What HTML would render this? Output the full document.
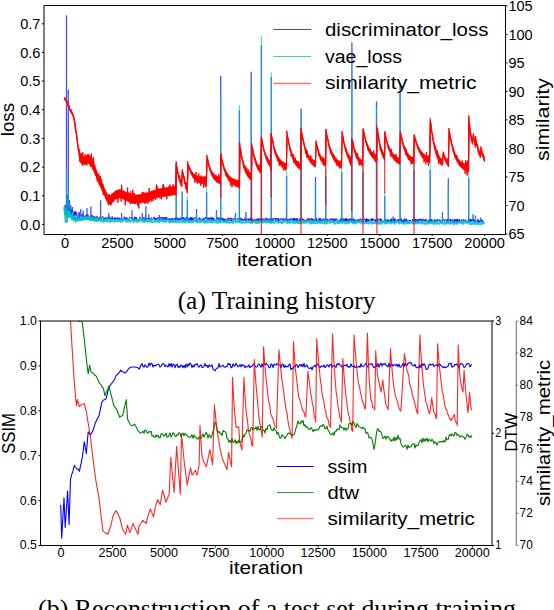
<!DOCTYPE html><html><head><meta charset="utf-8"><style>html,body{margin:0;padding:0;background:#fff;width:554px;height:610px;overflow:hidden;position:relative}</style></head><body><svg width="554" height="610" viewBox="0 0 554 610" style="position:absolute;left:0;top:0">
<rect x="0" y="0" width="554" height="610" fill="#fff"/>
<clipPath id="c1"><rect x="44.0" y="6.0" width="461.5" height="228.5"/></clipPath>
<g clip-path="url(#c1)">
<polyline points="64.6,210.12 64.95,205.71 65.3,204.97 65.65,206.9 66,213.04 66.35,210.77 66.7,205.76 67.05,207.21 67.4,209.59 67.75,213.41 68.1,208.18 68.45,206.66 68.8,209.44 69.15,209.57 69.5,211.5 69.85,208.58 70.2,210.91 70.55,214.81 70.9,208.71 71.25,212.82 71.6,214.17 71.95,210.23 72.3,213.47 72.65,211.32 73,212.26 73.35,214.78 73.7,216.34 74.05,213.57 74.4,211.42 74.75,215.95 75.1,214.32 75.45,211.25 75.8,215.18 76.15,215.65 76.5,212.11 76.85,213.32 77.2,218.18 77.55,216.91 77.9,218.06 78.25,215.14 78.6,215.15 78.95,212.49 79.3,212.08 79.65,217.88 80,218.76 80.35,215.03 80.7,215.67 81.05,215.99 81.4,216.43 81.75,214.69 82.1,213.85 82.45,214.7 82.8,217.5 83.15,214.99 83.5,214.96 83.85,217.25 84.2,216.35 84.55,217.46 84.9,216.87 85.25,216.98 85.6,216.52 85.95,214.92 86.3,216.25 86.65,217.47 87,214.01 87.35,217.69 87.7,214.61 88.05,214.28 88.4,216.72 88.75,217.2 89.1,216.68 89.45,217.66 89.8,218.03 90.15,217.99 90.5,218.35 90.85,215.45 91.2,214.82 91.55,217.98 91.9,218.09 92.25,215.99 92.6,215.28 92.95,215.76 93.3,216.69 93.65,216.07 94,217.96 94.35,216.44 94.7,217.22 95.05,217.73 95.4,216.96 95.75,218.45 96.1,218.23 96.45,216.33 96.8,215.88 97.15,216.25 97.5,216.43 97.85,219.59 98.2,217.69 98.55,218.97 98.9,217.81 99.25,219.21 99.6,219.72 99.95,216.85 100.3,218 100.65,218.56 101,219.17 101.35,219.17 101.7,217.45 102.05,217.61 102.4,216.38 102.75,216.14 103.1,217.1 103.45,218.06 103.8,219.6 104.15,217.91 104.5,219.09 104.85,218.66 105.2,217.39 105.55,219.46 105.9,219.06 106.25,217.86 106.6,218.42 106.95,217.96 107.3,217.07 107.65,217.33 108,219.5 108.35,216.76 108.7,217.45 109.05,216.79 109.4,216.91 109.75,219.07 110.1,220.01 110.45,217.7 110.8,219.35 111.15,217.92 111.5,218.74 111.85,217.02 112.2,216.33 112.55,219.36 112.9,218.21 113.25,218.07 113.6,218.63 113.95,219.19 114.3,217.95 114.65,219.23 115,217.15 115.35,219.77 115.7,219.05 116.05,218.98 116.4,218.08 116.75,218.78 117.1,217.95 117.45,219.13 117.8,217.29 118.15,218.11 118.5,217.93 118.85,220.02 119.2,218.93 119.55,217.87 119.9,220.22 120.25,218.5 120.6,219.46 120.95,218.41 121.3,218.64 121.65,219.22 122,218.91 122.35,218.44 122.7,220.16 123.05,219.11 123.4,219.43 123.75,220.32 124.1,216.61 124.45,217.99 124.8,218.07 125.15,219.2 125.5,217.47 125.85,219.38 126.2,218.53 126.55,219.63 126.9,217.28 127.25,219.54 127.6,218.98 127.95,218.7 128.3,220.31 128.65,219.01 129,219.73 129.35,217.65 129.7,216.98 130.05,217.9 130.4,217.56 130.75,217.51 131.1,217.24 131.45,219.39 131.8,217.49 132.15,218.43 132.5,219.07 132.85,217.98 133.2,219.95 133.55,219.85 133.9,219.68 134.25,219.87 134.6,216.61 134.95,220.37 135.3,217.56 135.65,217.14 136,219.68 136.35,217.19 136.7,219.75 137.05,220.16 137.4,219.72 137.75,220.18 138.1,219.96 138.45,219.39 138.8,219.59 139.15,220.16 139.5,217.69 139.85,217.19 140.2,216.88 140.55,217.23 140.9,218.65 141.25,220.11 141.6,220.03 141.95,218.92 142.3,220.04 142.65,218.36 143,216.99 143.35,219.24 143.7,219.14 144.05,220.43 144.4,220.64 144.75,218.65 145.1,216.86 145.45,219.23 145.8,220.18 146.15,218.64 146.5,219.83 146.85,218.49 147.2,218.97 147.55,217.93 147.9,218.38 148.25,217.86 148.6,220.68 148.95,219.95 149.3,218.06 149.65,219.14 150,219.94 150.35,219.69 150.7,218.99 151.05,218.01 151.4,217.57 151.75,219.25 152.1,219.97 152.45,219.27 152.8,219.33 153.15,219.21 153.5,217.68 153.85,218.66 154.2,217.24 154.55,216.98 154.9,220.5 155.25,218.32 155.6,219.99 155.95,217.88 156.3,218.54 156.65,218.58 157,220.59 157.35,219.13 157.7,217.34 158.05,219.17 158.4,218.65 158.75,218.42 159.1,220.62 159.45,218.78 159.8,217.29 160.15,217.73 160.5,216.95 160.85,219.62 161.2,220.75 161.55,220.37 161.9,216.97 162.25,217.87 162.6,217.65 162.95,220 163.3,220.33 163.65,217.25 164,219.75 164.35,220.64 164.7,220.77 165.05,216.97 165.4,219.53 165.75,217.24 166.1,219.85 166.45,220.38 166.8,217.17 167.15,219.24 167.5,219.65 167.85,220.13 168.2,219.53 168.55,218.62 168.9,220.1 169.25,220.09 169.6,218.13 169.95,220.86 170.3,220.27 170.65,219.39 171,220.29 171.35,218.21 171.7,220.53 172.05,219.72 172.4,220.56 172.75,218.12 173.1,218.04 173.45,219.33 173.8,220.54 174.15,220.33 174.5,220.46 174.85,218.09 175.2,220.23 175.55,220.66 175.9,217.35 176.25,220.2 176.6,220.01 176.95,217.95 177.3,219.73 177.65,217.85 178,220.03 178.35,218.87 178.7,220.26 179.05,217.96 179.4,220.62 179.75,219.13 180.1,219.4 180.45,217.81 180.8,219.85 181.15,219.31 181.5,219.12 181.85,217.23 182.2,218.55 182.55,219.59 182.9,217.69 183.25,218.45 183.6,217.15 183.95,221.03 184.3,219.02 184.65,218.12 185,218.78 185.35,220.15 185.7,220.94 186.05,217.24 186.4,217.81 186.75,217.3 187.1,220.58 187.45,220.89 187.8,217.36 188.15,218.69 188.5,220.95 188.85,219.37 189.2,220.94 189.55,218.69 189.9,217.76 190.25,221.09 190.6,217.28 190.95,218.54 191.3,220.75 191.65,217.32 192,219.97 192.35,221.08 192.7,217.72 193.05,220.9 193.4,218.34 193.75,220.18 194.1,218.45 194.45,217.65 194.8,217.83 195.15,217.73 195.5,217.21 195.85,217.95 196.2,220.88 196.55,220.91 196.9,220.73 197.25,218.97 197.6,220.9 197.95,219.7 198.3,218.55 198.65,219.1 199,217.76 199.35,217.42 199.7,219.41 200.05,220.68 200.4,218.85 200.75,218.29 201.1,218.55 201.45,219.18 201.8,220.83 202.15,221.13 202.5,220.8 202.85,218.07 203.2,218.37 203.55,218.03 203.9,221.2 204.25,220.93 204.6,218.39 204.95,217.47 205.3,218.42 205.65,217.31 206,218.61 206.35,217.26 206.7,219.36 207.05,219 207.4,218.13 207.75,217.81 208.1,220.35 208.45,218.05 208.8,217.62 209.15,219.26 209.5,218.1 209.85,220.11 210.2,219.61 210.55,217.55 210.9,218.92 211.25,217.51 211.6,218.63 211.95,220.75 212.3,217.36 212.65,219.21 213,218.37 213.35,220.63 213.7,217.96 214.05,219.69 214.4,219.39 214.75,219.38 215.1,220.18 215.45,220.79 215.8,220.17 216.15,220.33 216.5,220.82 216.85,219.31 217.2,219.46 217.55,217.42 217.9,218.24 218.25,217.76 218.6,220.62 218.95,217.74 219.3,218.13 219.65,219.75 220,219.45 220.35,217.77 220.7,220.23 221.05,217.86 221.4,219.37 221.75,217.86 222.1,217.92 222.45,220.82 222.8,219.67 223.15,218.04 223.5,221.14 223.85,219.07 224.2,219.5 224.55,221.16 224.9,218.75 225.25,218.74 225.6,221.33 225.95,221.06 226.3,220.8 226.65,219.48 227,221.15 227.35,219.11 227.7,218.88 228.05,217.7 228.4,219.45 228.75,217.99 229.1,220.54 229.45,219.97 229.8,220.98 230.15,217.58 230.5,218.51 230.85,218.54 231.2,221.15 231.55,218.45 231.9,219.19 232.25,218.61 232.6,220.05 232.95,219.84 233.3,219.52 233.65,219.33 234,218.07 234.35,218 234.7,219.1 235.05,218.45 235.4,219.67 235.75,219.93 236.1,220.09 236.45,220.33 236.8,219.69 237.15,219.37 237.5,218.47 237.85,219.55 238.2,219.85 238.55,218.92 238.9,218.47 239.25,219.48 239.6,221.47 239.95,220.61 240.3,217.79 240.65,219.29 241,219.08 241.35,220.47 241.7,218.43 242.05,220.49 242.4,218.89 242.75,220.24 243.1,220.94 243.45,219.62 243.8,220.52 244.15,219.45 244.5,220.39 244.85,218.07 245.2,217.58 245.55,219.91 245.9,221.42 246.25,219.24 246.6,221.06 246.95,219.09 247.3,219.41 247.65,218.75 248,219.81 248.35,218.87 248.7,220.99 249.05,219.37 249.4,218.81 249.75,219.9 250.1,217.95 250.45,218.9 250.8,220.96 251.15,218.43 251.5,221.25 251.85,217.8 252.2,219.61 252.55,220.71 252.9,221.62 253.25,219.7 253.6,219.19 253.95,220.01 254.3,221.43 254.65,219.74 255,219.14 255.35,219.89 255.7,221.16 256.05,219.6 256.4,220.15 256.75,219.03 257.1,220.92 257.45,218.93 257.8,220.97 258.15,218.11 258.5,220.43 258.85,221.63 259.2,219.36 259.55,218.84 259.9,219.7 260.25,218.41 260.6,220.1 260.95,221.66 261.3,217.86 261.65,220.84 262,220.46 262.35,218.92 262.7,220.05 263.05,218.49 263.4,219.92 263.75,220.3 264.1,221.7 264.45,219.36 264.8,218.35 265.15,218.15 265.5,218.41 265.85,221.02 266.2,220.96 266.55,217.78 266.9,219.03 267.25,219.15 267.6,218.81 267.95,221.36 268.3,219.14 268.65,219.29 269,221.31 269.35,221.59 269.7,220.24 270.05,217.94 270.4,221.18 270.75,221.36 271.1,218.98 271.45,221.61 271.8,221.57 272.15,219.34 272.5,218.67 272.85,221.28 273.2,220.96 273.55,218.48 273.9,218.54 274.25,218.96 274.6,218.26 274.95,219.34 275.3,218.06 275.65,221.11 276,218.79 276.35,218.95 276.7,217.95 277.05,219.18 277.4,220.64 277.75,218.9 278.1,218.34 278.45,221.17 278.8,218.47 279.15,220.72 279.5,221.67 279.85,221.64 280.2,218.75 280.55,218.37 280.9,218.89 281.25,220.2 281.6,218.84 281.95,218.71 282.3,218.35 282.65,220.03 283,220.95 283.35,220.5 283.7,219.11 284.05,218.22 284.4,221.28 284.75,220.53 285.1,220.13 285.45,219.89 285.8,218.15 286.15,218.79 286.5,220.76 286.85,219.51 287.2,221 287.55,221.35 287.9,219.01 288.25,220.62 288.6,219.31 288.95,220.55 289.3,218.91 289.65,219.33 290,218.65 290.35,221.57 290.7,220.78 291.05,218.09 291.4,218.72 291.75,219.46 292.1,219.18 292.45,218.66 292.8,220.22 293.15,218.96 293.5,220.69 293.85,217.95 294.2,221.06 294.55,218.13 294.9,220.39 295.25,218.94 295.6,221.13 295.95,221.63 296.3,218.31 296.65,219.55 297,221.29 297.35,218.34 297.7,219.68 298.05,220.75 298.4,221.31 298.75,219.8 299.1,220.79 299.45,220.04 299.8,218.51 300.15,218.18 300.5,221.23 300.85,220.19 301.2,220.56 301.55,219.01 301.9,219.44 302.25,218.82 302.6,218.56 302.95,220.7 303.3,218.98 303.65,219.8 304,219.43 304.35,221.56 304.7,220.28 305.05,221.29 305.4,221.07 305.75,220.7 306.1,219.88 306.45,221.36 306.8,219.19 307.15,218.86 307.5,219.16 307.85,220.85 308.2,218.5 308.55,219.92 308.9,218.72 309.25,218.09 309.6,221.05 309.95,220.92 310.3,220.31 310.65,220.01 311,218.82 311.35,218.09 311.7,220.64 312.05,221.81 312.4,219.07 312.75,218.62 313.1,221.17 313.45,219.26 313.8,220.63 314.15,221.78 314.5,221.22 314.85,221.05 315.2,218.82 315.55,219.36 315.9,220.29 316.25,221.41 316.6,218.25 316.95,220.6 317.3,220.92 317.65,221.88 318,220.1 318.35,219.3 318.7,218.42 319.05,218.76 319.4,221.98 319.75,218.27 320.1,218.87 320.45,218.12 320.8,221.53 321.15,219.82 321.5,220.76 321.85,219.8 322.2,219.88 322.55,221.43 322.9,218.78 323.25,219.9 323.6,219.52 323.95,218.47 324.3,219.97 324.65,221.77 325,222.03 325.35,220.62 325.7,218.38 326.05,220.58 326.4,220.43 326.75,220.07 327.1,219.34 327.45,221.69 327.8,218.91 328.15,219.94 328.5,220.8 328.85,220.48 329.2,220.28 329.55,219.75 329.9,218.88 330.25,220.36 330.6,221.61 330.95,218.55 331.3,219.18 331.65,220.39 332,220.46 332.35,220.23 332.7,218.5 333.05,218.47 333.4,221.63 333.75,221.04 334.1,218.64 334.45,221.07 334.8,221.51 335.15,218.88 335.5,220.44 335.85,218.74 336.2,218.43 336.55,219.69 336.9,220.58 337.25,219.4 337.6,219.91 337.95,220.69 338.3,220.46 338.65,221.69 339,221.19 339.35,221.27 339.7,221.52 340.05,219.71 340.4,222.01 340.75,218.39 341.1,218.62 341.45,221.44 341.8,221.93 342.15,219.25 342.5,220.02 342.85,220.56 343.2,218.32 343.55,221.44 343.9,220.45 344.25,220.99 344.6,218.82 344.95,220.4 345.3,221.48 345.65,218.3 346,218.85 346.35,221.74 346.7,218.39 347.05,221.53 347.4,219.83 347.75,218.89 348.1,219.83 348.45,220.71 348.8,219.58 349.15,221.84 349.5,218.44 349.85,219.71 350.2,220.58 350.55,219.69 350.9,220.59 351.25,218.36 351.6,222.23 351.95,218.86 352.3,219.37 352.65,220.29 353,220.56 353.35,222.12 353.7,218.43 354.05,221.38 354.4,221.39 354.75,220.84 355.1,219.42 355.45,221.79 355.8,221.03 356.15,221.36 356.5,220.34 356.85,219.71 357.2,219.93 357.55,219.66 357.9,222.27 358.25,219.78 358.6,219.26 358.95,218.86 359.3,221.81 359.65,220.11 360,219.53 360.35,218.59 360.7,219.56 361.05,220.54 361.4,219.69 361.75,220.67 362.1,219.05 362.45,222.29 362.8,221.44 363.15,221.82 363.5,220.28 363.85,219.45 364.2,218.44 364.55,219.42 364.9,219.22 365.25,219.15 365.6,221.81 365.95,219.14 366.3,222.21 366.65,218.68 367,221.87 367.35,218.91 367.7,220.51 368.05,220.93 368.4,219.22 368.75,221.37 369.1,220 369.45,219.73 369.8,220.04 370.15,220.89 370.5,220.36 370.85,219.41 371.2,218.44 371.55,220.64 371.9,218.61 372.25,221.29 372.6,218.77 372.95,218.97 373.3,218.76 373.65,220.09 374,220.75 374.35,221.03 374.7,219.73 375.05,219.44 375.4,221.46 375.75,219.65 376.1,222.32 376.45,219.53 376.8,222.18 377.15,218.45 377.5,221.04 377.85,219.87 378.2,219.34 378.55,218.79 378.9,218.96 379.25,220.44 379.6,219.16 379.95,219.9 380.3,219.14 380.65,222.12 381,218.55 381.35,219.41 381.7,220.44 382.05,219.82 382.4,220.29 382.75,222.06 383.1,221.38 383.45,221.03 383.8,221.91 384.15,220.71 384.5,222.13 384.85,220.97 385.2,219.47 385.55,220.2 385.9,219.28 386.25,221.04 386.6,222.45 386.95,220.75 387.3,221.93 387.65,219.54 388,221.77 388.35,219.8 388.7,222.04 389.05,221.21 389.4,220.3 389.75,222.02 390.1,222.02 390.45,221.61 390.8,219.22 391.15,222.47 391.5,218.59 391.85,222.39 392.2,222.15 392.55,221.45 392.9,219.18 393.25,218.87 393.6,222.18 393.95,222.04 394.3,218.64 394.65,221.68 395,218.67 395.35,219.44 395.7,218.94 396.05,222.48 396.4,222.04 396.75,220.47 397.1,220.24 397.45,221.27 397.8,221.48 398.15,218.98 398.5,220.52 398.85,219.93 399.2,222.41 399.55,221.46 399.9,219.25 400.25,218.82 400.6,220.58 400.95,220.77 401.3,218.59 401.65,221.16 402,220.75 402.35,222.48 402.7,221.43 403.05,219.83 403.4,222.45 403.75,220.1 404.1,219.14 404.45,218.59 404.8,222.27 405.15,221.01 405.5,219.53 405.85,219.04 406.2,221.71 406.55,218.78 406.9,219.88 407.25,220.78 407.6,222.47 407.95,221.57 408.3,220.63 408.65,222.57 409,221.11 409.35,220.11 409.7,220.17 410.05,221.05 410.4,219.89 410.75,220.77 411.1,221.05 411.45,222.24 411.8,221.49 412.15,220.51 412.5,219.18 412.85,220.73 413.2,220.72 413.55,219.57 413.9,221.9 414.25,221.18 414.6,222.2 414.95,218.8 415.3,221.95 415.65,219.12 416,219.63 416.35,220.06 416.7,220.72 417.05,218.99 417.4,222.62 417.75,220.44 418.1,221.83 418.45,219.24 418.8,220.11 419.15,219.6 419.5,220.01 419.85,218.72 420.2,220.93 420.55,219.37 420.9,219.75 421.25,219.62 421.6,219.02 421.95,222.1 422.3,220.36 422.65,221.14 423,218.84 423.35,220.14 423.7,219.85 424.05,221.26 424.4,220.08 424.75,220.99 425.1,219.44 425.45,221.53 425.8,221.34 426.15,218.97 426.5,220.2 426.85,220.67 427.2,221.72 427.55,221.06 427.9,220.54 428.25,220.35 428.6,222.26 428.95,220.66 429.3,222 429.65,221.66 430,218.87 430.35,220.92 430.7,221.79 431.05,219.59 431.4,221.98 431.75,219.07 432.1,220.97 432.45,221.44 432.8,220.65 433.15,221.49 433.5,221.06 433.85,221.99 434.2,219.31 434.55,220.8 434.9,222.69 435.25,219.78 435.6,219.75 435.95,220.96 436.3,220.42 436.65,219.96 437,221.95 437.35,219.77 437.7,218.95 438.05,220.24 438.4,220.71 438.75,220.21 439.1,219.55 439.45,220.98 439.8,220.01 440.15,220.39 440.5,220.06 440.85,221.95 441.2,221.61 441.55,221.14 441.9,222.51 442.25,222.28 442.6,220.51 442.95,218.97 443.3,219.06 443.65,219.5 444,221.02 444.35,220.77 444.7,221.48 445.05,219.63 445.4,219.37 445.75,219.62 446.1,219.17 446.45,222.6 446.8,221.43 447.15,222.42 447.5,219.42 447.85,221.58 448.2,222.15 448.55,219.74 448.9,220.08 449.25,219.42 449.6,220.11 449.95,219.42 450.3,222.73 450.65,218.95 451,221.38 451.35,221 451.7,220.68 452.05,220.54 452.4,219.28 452.75,219.32 453.1,222.81 453.45,220.94 453.8,220.22 454.15,220.82 454.5,219.21 454.85,222.29 455.2,221 455.55,219.4 455.9,222.42 456.25,219.76 456.6,218.98 456.95,222.72 457.3,222.63 457.65,219.05 458,220.65 458.35,221.83 458.7,222.01 459.05,219.14 459.4,219.25 459.75,222.02 460.1,220.71 460.45,220.92 460.8,221.46 461.15,221.18 461.5,220.37 461.85,219.53 462.2,222.64 462.55,222.25 462.9,220.8 463.25,219.26 463.6,219.35 463.95,221.03 464.3,220.76 464.65,221.03 465,220.36 465.35,220.51 465.7,219.41 466.05,222.39 466.4,222.46 466.75,222.68 467.1,222.07 467.45,221.66 467.8,221.91 468.15,219.97 468.5,220.49 468.85,220.08 469.2,219.25 469.55,219.85 469.9,222.06 470.25,219.17 470.6,221.32 470.95,219.09 471.3,221.7 471.65,220.3 472,220.78 472.35,218.98 472.7,220.58 473.05,219.29 473.4,221.87 473.75,219.55 474.1,219.5 474.45,219.82 474.8,222.85 475.15,222.12 475.5,220.94 475.85,222.58 476.2,221.5 476.55,221.46 476.9,222.1 477.25,221.83 477.6,219.61 477.95,221.65 478.3,219.51 478.65,222.72 479,221.95 479.35,222.18 479.7,220.71 480.05,222.11 480.4,220.17 480.75,221.11 481.1,219.44 481.45,222.13 481.8,222.34 482.15,219.78 482.5,219.94 482.85,222.62 483.2,221.83 483.55,222.13 483.9,221.73 484.25,222.3" fill="none" stroke="#0000ff" stroke-width="1" stroke-opacity="0.75" stroke-linejoin="round"/>
<line x1="66.5" y1="209.58" x2="66.5" y2="15.3" stroke="#0000ff" stroke-width="1.3" stroke-opacity="0.7"/>
<line x1="68.3" y1="210.43" x2="68.3" y2="89.8" stroke="#0000ff" stroke-width="1.3" stroke-opacity="0.7"/>
<line x1="67.4" y1="210.13" x2="67.4" y2="195" stroke="#0000ff" stroke-width="1.3" stroke-opacity="0.7"/>
<line x1="69.5" y1="210.83" x2="69.5" y2="200" stroke="#0000ff" stroke-width="1.3" stroke-opacity="0.7"/>
<line x1="70.8" y1="211.46" x2="70.8" y2="205" stroke="#0000ff" stroke-width="1.3" stroke-opacity="0.7"/>
<line x1="72.5" y1="212.43" x2="72.5" y2="207" stroke="#0000ff" stroke-width="1.3" stroke-opacity="0.7"/>
<line x1="80.7" y1="215.93" x2="80.7" y2="209" stroke="#0000ff" stroke-width="1.3" stroke-opacity="0.7"/>
<line x1="83.2" y1="215.68" x2="83.2" y2="210.4" stroke="#0000ff" stroke-width="1.3" stroke-opacity="0.7"/>
<line x1="87" y1="215.9" x2="87" y2="207.9" stroke="#0000ff" stroke-width="1.3" stroke-opacity="0.7"/>
<line x1="90.9" y1="216.63" x2="90.9" y2="206.6" stroke="#0000ff" stroke-width="1.3" stroke-opacity="0.7"/>
<line x1="100.6" y1="218.01" x2="100.6" y2="200.2" stroke="#0000ff" stroke-width="1.3" stroke-opacity="0.7"/>
<line x1="108.8" y1="218.14" x2="108.8" y2="213" stroke="#0000ff" stroke-width="1.3" stroke-opacity="0.7"/>
<line x1="121.6" y1="218.35" x2="121.6" y2="213" stroke="#0000ff" stroke-width="1.3" stroke-opacity="0.7"/>
<line x1="132" y1="218.51" x2="132" y2="210.3" stroke="#0000ff" stroke-width="1.3" stroke-opacity="0.7"/>
<line x1="142.3" y1="218.68" x2="142.3" y2="212.9" stroke="#0000ff" stroke-width="1.3" stroke-opacity="0.7"/>
<line x1="145.9" y1="218.73" x2="145.9" y2="206.3" stroke="#0000ff" stroke-width="1.3" stroke-opacity="0.7"/>
<line x1="148.8" y1="218.78" x2="148.8" y2="214.2" stroke="#0000ff" stroke-width="1.3" stroke-opacity="0.7"/>
<line x1="159.3" y1="218.87" x2="159.3" y2="215" stroke="#0000ff" stroke-width="1.3" stroke-opacity="0.7"/>
<line x1="176.2" y1="219.01" x2="176.2" y2="161.1" stroke="#0000ff" stroke-width="1.3" stroke-opacity="0.7"/>
<line x1="182.2" y1="219.06" x2="182.2" y2="191.4" stroke="#0000ff" stroke-width="1.3" stroke-opacity="0.7"/>
<line x1="187.4" y1="219.1" x2="187.4" y2="200" stroke="#0000ff" stroke-width="1.3" stroke-opacity="0.7"/>
<line x1="196.5" y1="219.17" x2="196.5" y2="209" stroke="#0000ff" stroke-width="1.3" stroke-opacity="0.7"/>
<line x1="206.6" y1="219.25" x2="206.6" y2="192" stroke="#0000ff" stroke-width="1.3" stroke-opacity="0.7"/>
<line x1="216.5" y1="219.33" x2="216.5" y2="210.3" stroke="#0000ff" stroke-width="1.3" stroke-opacity="0.7"/>
<line x1="220.7" y1="219.37" x2="220.7" y2="76.1" stroke="#0000ff" stroke-width="1.3" stroke-opacity="0.7"/>
<line x1="235.5" y1="219.48" x2="235.5" y2="213" stroke="#0000ff" stroke-width="1.3" stroke-opacity="0.7"/>
<line x1="239.4" y1="219.52" x2="239.4" y2="110" stroke="#0000ff" stroke-width="1.3" stroke-opacity="0.7"/>
<line x1="245.9" y1="219.57" x2="245.9" y2="212" stroke="#0000ff" stroke-width="1.3" stroke-opacity="0.7"/>
<line x1="251.2" y1="219.61" x2="251.2" y2="71.8" stroke="#0000ff" stroke-width="1.3" stroke-opacity="0.7"/>
<line x1="261.4" y1="219.69" x2="261.4" y2="45" stroke="#0000ff" stroke-width="1.3" stroke-opacity="0.7"/>
<line x1="271.3" y1="219.77" x2="271.3" y2="77" stroke="#0000ff" stroke-width="1.3" stroke-opacity="0.7"/>
<line x1="286.6" y1="219.89" x2="286.6" y2="176" stroke="#0000ff" stroke-width="1.3" stroke-opacity="0.7"/>
<line x1="301.1" y1="220.01" x2="301.1" y2="108.4" stroke="#0000ff" stroke-width="1.3" stroke-opacity="0.7"/>
<line x1="315.5" y1="220.08" x2="315.5" y2="177.1" stroke="#0000ff" stroke-width="1.3" stroke-opacity="0.7"/>
<line x1="325.8" y1="220.14" x2="325.8" y2="176" stroke="#0000ff" stroke-width="1.3" stroke-opacity="0.7"/>
<line x1="341.7" y1="220.23" x2="341.7" y2="172" stroke="#0000ff" stroke-width="1.3" stroke-opacity="0.7"/>
<line x1="351.9" y1="220.28" x2="351.9" y2="42.5" stroke="#0000ff" stroke-width="1.3" stroke-opacity="0.7"/>
<line x1="363" y1="220.34" x2="363" y2="172" stroke="#0000ff" stroke-width="1.3" stroke-opacity="0.7"/>
<line x1="376.5" y1="220.41" x2="376.5" y2="101.5" stroke="#0000ff" stroke-width="1.3" stroke-opacity="0.7"/>
<line x1="384.7" y1="220.46" x2="384.7" y2="196" stroke="#0000ff" stroke-width="1.3" stroke-opacity="0.7"/>
<line x1="393" y1="220.5" x2="393" y2="216.4" stroke="#0000ff" stroke-width="1.3" stroke-opacity="0.7"/>
<line x1="400.1" y1="220.54" x2="400.1" y2="84.8" stroke="#0000ff" stroke-width="1.3" stroke-opacity="0.7"/>
<line x1="414" y1="220.62" x2="414" y2="170" stroke="#0000ff" stroke-width="1.3" stroke-opacity="0.7"/>
<line x1="419.8" y1="220.65" x2="419.8" y2="219.5" stroke="#0000ff" stroke-width="1.3" stroke-opacity="0.7"/>
<line x1="430.2" y1="220.71" x2="430.2" y2="170" stroke="#0000ff" stroke-width="1.3" stroke-opacity="0.7"/>
<line x1="442.4" y1="220.77" x2="442.4" y2="212.3" stroke="#0000ff" stroke-width="1.3" stroke-opacity="0.7"/>
<line x1="448.3" y1="220.8" x2="448.3" y2="178.2" stroke="#0000ff" stroke-width="1.3" stroke-opacity="0.7"/>
<line x1="468.7" y1="220.91" x2="468.7" y2="178" stroke="#0000ff" stroke-width="1.3" stroke-opacity="0.7"/>
<line x1="473" y1="220.94" x2="473" y2="214.3" stroke="#0000ff" stroke-width="1.3" stroke-opacity="0.7"/>
<line x1="475.5" y1="220.95" x2="475.5" y2="215.4" stroke="#0000ff" stroke-width="1.3" stroke-opacity="0.7"/>
<line x1="480.6" y1="220.98" x2="480.6" y2="217.4" stroke="#0000ff" stroke-width="1.3" stroke-opacity="0.7"/>
<polyline points="64.6,211.16 64.95,212.15 65.3,214.46 65.65,215.42 66,214.84 66.35,215.22 66.7,214.28 67.05,213.21 67.4,216.75 67.75,216.18 68.1,213.95 68.45,217.13 68.8,213.27 69.15,213.95 69.5,214.7 69.85,216.94 70.2,217.2 70.55,214.34 70.9,215.19 71.25,214.51 71.6,219.36 71.95,216.74 72.3,214.6 72.65,218.11 73,218.81 73.35,220.76 73.7,216.83 74.05,215.8 74.4,218.17 74.75,216.29 75.1,216.21 75.45,221.99 75.8,217.74 76.15,219.76 76.5,220.88 76.85,219.39 77.2,218.56 77.55,220.71 77.9,218.33 78.25,220.49 78.6,220.43 78.95,218.83 79.3,218.8 79.65,219.06 80,220.09 80.35,220.07 80.7,219.52 81.05,220.16 81.4,218.52 81.75,220.55 82.1,220.22 82.45,218.29 82.8,219.67 83.15,219.61 83.5,219.94 83.85,217.95 84.2,219.05 84.55,219.09 84.9,218.43 85.25,219.12 85.6,218.37 85.95,218.81 86.3,217.77 86.65,217.4 87,217.63 87.35,217.56 87.7,218.3 88.05,217.39 88.4,219.42 88.75,219.47 89.1,217.61 89.45,218.54 89.8,219.94 90.15,217.72 90.5,220.32 90.85,217.95 91.2,218.02 91.55,220.28 91.9,219.69 92.25,219.73 92.6,218.19 92.95,220.21 93.3,218.95 93.65,218.11 94,218.95 94.35,219.26 94.7,221.1 95.05,220.81 95.4,218.4 95.75,219.67 96.1,219.46 96.45,220.08 96.8,221.11 97.15,221.03 97.5,218.63 97.85,220.96 98.2,218.74 98.55,220.26 98.9,219.39 99.25,219.93 99.6,219.72 99.95,219.84 100.3,221.1 100.65,219.34 101,219.25 101.35,221.1 101.7,220.9 102.05,220.22 102.4,221.7 102.75,221.69 103.1,219.65 103.45,221.74 103.8,220.18 104.15,219.74 104.5,220.64 104.85,221.31 105.2,220.1 105.55,219.52 105.9,221.05 106.25,219.57 106.6,221.39 106.95,219.45 107.3,221.73 107.65,219.65 108,221.19 108.35,219.55 108.7,219.83 109.05,220.66 109.4,220.08 109.75,222.02 110.1,219.41 110.45,219.41 110.8,222.06 111.15,221.31 111.5,219.7 111.85,219.44 112.2,220.29 112.55,220.32 112.9,221.21 113.25,221.03 113.6,219.56 113.95,220.35 114.3,221.87 114.65,220.87 115,220.41 115.35,221.32 115.7,221.48 116.05,221.72 116.4,221.09 116.75,220.11 117.1,219.46 117.45,221.52 117.8,221.07 118.15,220.45 118.5,221.05 118.85,221.21 119.2,219.74 119.55,221.53 119.9,220.67 120.25,219.32 120.6,219.69 120.95,222.03 121.3,219.52 121.65,220.84 122,220.76 122.35,221.71 122.7,220.46 123.05,219.86 123.4,220.41 123.75,219.6 124.1,220.31 124.45,220.07 124.8,219.29 125.15,220.51 125.5,220.31 125.85,219.93 126.2,222.08 126.55,219.92 126.9,220.44 127.25,219.66 127.6,221.7 127.95,220.69 128.3,219.96 128.65,220.35 129,221.75 129.35,220.7 129.7,220.94 130.05,221.8 130.4,221.86 130.75,220.44 131.1,220.59 131.45,219.32 131.8,220.16 132.15,220.23 132.5,220.61 132.85,221.31 133.2,222.12 133.55,219.51 133.9,222.06 134.25,219.76 134.6,221.25 134.95,219.38 135.3,221.32 135.65,219.66 136,220.06 136.35,220.4 136.7,222.08 137.05,219.87 137.4,221.2 137.75,221.38 138.1,221.75 138.45,219.98 138.8,220.98 139.15,220.71 139.5,221.06 139.85,220.1 140.2,220.88 140.55,220.81 140.9,220.88 141.25,221.03 141.6,219.44 141.95,220.82 142.3,221.42 142.65,220.55 143,222.31 143.35,221.34 143.7,219.52 144.05,221.49 144.4,220.44 144.75,220.98 145.1,222.14 145.45,221.61 145.8,220.47 146.15,220.56 146.5,221.04 146.85,220.1 147.2,220.74 147.55,221.96 147.9,221.96 148.25,220.99 148.6,221.01 148.95,221.45 149.3,220.49 149.65,220.39 150,221.4 150.35,219.62 150.7,222.16 151.05,219.66 151.4,219.53 151.75,222.28 152.1,221.49 152.45,222.25 152.8,221.37 153.15,221.61 153.5,221.57 153.85,221.53 154.2,221.82 154.55,220.08 154.9,221.86 155.25,221.51 155.6,222.01 155.95,221.23 156.3,220.46 156.65,220.51 157,221.48 157.35,219.72 157.7,219.68 158.05,222 158.4,222.32 158.75,219.61 159.1,221.35 159.45,222.52 159.8,220.82 160.15,221.51 160.5,220.04 160.85,219.6 161.2,219.95 161.55,219.86 161.9,219.98 162.25,221.76 162.6,221.8 162.95,219.75 163.3,221.75 163.65,221.8 164,221.5 164.35,221 164.7,220.38 165.05,221.77 165.4,219.67 165.75,222.08 166.1,220.56 166.45,220.13 166.8,221.09 167.15,220.74 167.5,220.96 167.85,220.08 168.2,220.74 168.55,221.54 168.9,220.81 169.25,222.49 169.6,221.36 169.95,219.84 170.3,221.77 170.65,220.66 171,222.6 171.35,221.47 171.7,220.96 172.05,220.81 172.4,221.48 172.75,222.1 173.1,219.69 173.45,220.96 173.8,222.14 174.15,219.82 174.5,222.13 174.85,221.41 175.2,222.26 175.55,221.76 175.9,220.75 176.25,221.37 176.6,220.31 176.95,222.51 177.3,221.54 177.65,221.12 178,220.49 178.35,222.1 178.7,219.99 179.05,222.05 179.4,221.47 179.75,222.39 180.1,221.17 180.45,220.31 180.8,220.29 181.15,220.84 181.5,220.96 181.85,220.2 182.2,222.75 182.55,220.08 182.9,222.13 183.25,221.56 183.6,221.33 183.95,219.87 184.3,222.37 184.65,221.48 185,222.12 185.35,222.62 185.7,222.24 186.05,220.55 186.4,220.39 186.75,220.04 187.1,221.47 187.45,221.17 187.8,222.53 188.15,221.6 188.5,220.17 188.85,220.58 189.2,221.74 189.55,221.83 189.9,221.16 190.25,222.72 190.6,220.49 190.95,220.6 191.3,222.54 191.65,222.34 192,222.2 192.35,221.78 192.7,220.01 193.05,222.11 193.4,221.88 193.75,221.62 194.1,220.17 194.45,220.63 194.8,221.3 195.15,220.58 195.5,221.9 195.85,222.02 196.2,219.98 196.55,220.53 196.9,222.48 197.25,220.3 197.6,220.17 197.95,222.41 198.3,221.24 198.65,222.36 199,221.78 199.35,220.56 199.7,222.04 200.05,220.33 200.4,220.7 200.75,220.37 201.1,222.43 201.45,220.41 201.8,220.87 202.15,220.26 202.5,220.09 202.85,221.93 203.2,221.36 203.55,220.7 203.9,221.02 204.25,222.93 204.6,220.23 204.95,222.63 205.3,222.12 205.65,222.88 206,222.37 206.35,220.37 206.7,222.45 207.05,220.51 207.4,222.7 207.75,221.68 208.1,220.51 208.45,222.1 208.8,220.21 209.15,221.8 209.5,220.8 209.85,221.82 210.2,222.42 210.55,220.59 210.9,222.19 211.25,222.15 211.6,222.42 211.95,222.52 212.3,221.48 212.65,222.73 213,222.62 213.35,220.56 213.7,221.11 214.05,221.13 214.4,220.03 214.75,221.36 215.1,220.38 215.45,222.47 215.8,220.99 216.15,221.17 216.5,220.22 216.85,222.9 217.2,221.58 217.55,221.65 217.9,222.95 218.25,220.59 218.6,220.8 218.95,220.14 219.3,222.15 219.65,220.11 220,221.79 220.35,222.17 220.7,222.67 221.05,220.2 221.4,221.55 221.75,220.91 222.1,221.29 222.45,221.86 222.8,220.52 223.15,222.32 223.5,222.57 223.85,221.26 224.2,222.61 224.55,221.28 224.9,222.43 225.25,220.82 225.6,221.41 225.95,222.52 226.3,222.56 226.65,220.27 227,222.99 227.35,220.87 227.7,222.02 228.05,221.72 228.4,221.43 228.75,220.19 229.1,223.04 229.45,222.95 229.8,222.57 230.15,222.8 230.5,222.07 230.85,222.18 231.2,221.78 231.55,222.02 231.9,221.72 232.25,223.01 232.6,221.08 232.95,220.52 233.3,223.03 233.65,220.97 234,221.77 234.35,220.55 234.7,221.06 235.05,221.05 235.4,220.45 235.75,222.71 236.1,221.9 236.45,220.8 236.8,221.58 237.15,222.04 237.5,221.13 237.85,220.87 238.2,221.36 238.55,220.24 238.9,222.8 239.25,221.88 239.6,221.07 239.95,221.11 240.3,220.7 240.65,222.84 241,220.41 241.35,221.55 241.7,220.56 242.05,223.11 242.4,220.7 242.75,221.3 243.1,222.09 243.45,222.71 243.8,222.47 244.15,222.53 244.5,222.61 244.85,223 245.2,222.87 245.55,222.56 245.9,221.76 246.25,221.99 246.6,222.62 246.95,222.1 247.3,221.64 247.65,222.45 248,221.46 248.35,221.44 248.7,222.65 249.05,221.79 249.4,220.85 249.75,220.73 250.1,222.05 250.45,223.06 250.8,222.84 251.15,223.19 251.5,221.59 251.85,220.35 252.2,222.01 252.55,223.08 252.9,221.94 253.25,221.88 253.6,222.38 253.95,221.4 254.3,221.39 254.65,222.37 255,220.64 255.35,221.55 255.7,222.07 256.05,223.24 256.4,221.67 256.75,223.34 257.1,221.95 257.45,220.87 257.8,223.3 258.15,221.9 258.5,223.05 258.85,222.83 259.2,223.04 259.55,220.85 259.9,221.91 260.25,220.95 260.6,222.28 260.95,221.45 261.3,222.3 261.65,221.63 262,221.32 262.35,220.41 262.7,222.93 263.05,222.41 263.4,221.9 263.75,221.21 264.1,222.01 264.45,222.14 264.8,220.78 265.15,222.7 265.5,220.72 265.85,221.99 266.2,222.27 266.55,220.62 266.9,222.75 267.25,222.58 267.6,220.95 267.95,220.74 268.3,222.19 268.65,221.8 269,220.62 269.35,222.2 269.7,221.78 270.05,221.21 270.4,223.26 270.75,221.41 271.1,222.92 271.45,222.28 271.8,221.96 272.15,221.21 272.5,222.64 272.85,221.41 273.2,221.94 273.55,221.22 273.9,221.57 274.25,223.41 274.6,222.18 274.95,222.1 275.3,221.71 275.65,220.88 276,221.56 276.35,221.08 276.7,221.23 277.05,222.51 277.4,220.99 277.75,220.8 278.1,223.03 278.45,221.86 278.8,222.95 279.15,221.59 279.5,221.67 279.85,221.16 280.2,222.06 280.55,221.9 280.9,222.67 281.25,223.25 281.6,221.66 281.95,222.38 282.3,223.18 282.65,222.1 283,221.38 283.35,221.72 283.7,222.27 284.05,221.74 284.4,221.11 284.75,221.54 285.1,220.91 285.45,221.67 285.8,221.48 286.15,221.52 286.5,220.97 286.85,221.44 287.2,223.32 287.55,223.25 287.9,221 288.25,220.69 288.6,222.6 288.95,221.85 289.3,222.71 289.65,223.16 290,222.51 290.35,220.97 290.7,222.83 291.05,220.75 291.4,221.12 291.75,221.54 292.1,220.75 292.45,222.55 292.8,223.16 293.15,222.8 293.5,221.95 293.85,221.7 294.2,223.16 294.55,221.52 294.9,223.22 295.25,220.8 295.6,221 295.95,221.3 296.3,222.92 296.65,222.76 297,222.92 297.35,221.52 297.7,223.52 298.05,223.48 298.4,222.9 298.75,222.57 299.1,220.86 299.45,221.98 299.8,223.48 300.15,222.99 300.5,222.81 300.85,221.49 301.2,223.61 301.55,222.34 301.9,220.89 302.25,221.94 302.6,221.64 302.95,222.83 303.3,221.43 303.65,222.26 304,223.52 304.35,221.62 304.7,221.15 305.05,221.72 305.4,222.37 305.75,221.23 306.1,222.52 306.45,223.03 306.8,221.07 307.15,221.81 307.5,220.91 307.85,221.33 308.2,222.08 308.55,221.71 308.9,221.83 309.25,220.96 309.6,223.72 309.95,221 310.3,223.69 310.65,221.07 311,222.05 311.35,222.38 311.7,223.51 312.05,222.64 312.4,222.71 312.75,221.49 313.1,220.84 313.45,223.28 313.8,221.32 314.15,223.3 314.5,221.27 314.85,223.26 315.2,221.75 315.55,223.24 315.9,221.87 316.25,221.88 316.6,221.49 316.95,222.47 317.3,223.23 317.65,223.49 318,222.26 318.35,221.25 318.7,222.52 319.05,222.85 319.4,222.11 319.75,221.05 320.1,222.11 320.45,222.96 320.8,223.31 321.15,223.15 321.5,221.64 321.85,222.34 322.2,221.81 322.55,222.8 322.9,223.51 323.25,221.69 323.6,222.49 323.95,221.39 324.3,221.78 324.65,223.72 325,223.4 325.35,223.7 325.7,223.24 326.05,222.84 326.4,221.71 326.75,223.67 327.1,222.76 327.45,221.85 327.8,220.9 328.15,222.86 328.5,221.08 328.85,221.94 329.2,222.08 329.55,222.52 329.9,221.17 330.25,223.5 330.6,221.17 330.95,221.59 331.3,222.43 331.65,222.3 332,221.52 332.35,221.18 332.7,222.61 333.05,222.07 333.4,222.16 333.75,222.5 334.1,223.12 334.45,223.82 334.8,221.16 335.15,222.03 335.5,223.73 335.85,223.18 336.2,223.19 336.55,221.57 336.9,220.91 337.25,221.5 337.6,222.99 337.95,223.53 338.3,223.48 338.65,223.62 339,221.37 339.35,221.89 339.7,222.91 340.05,221.24 340.4,223.09 340.75,223.04 341.1,222.69 341.45,222.53 341.8,221.22 342.15,222.91 342.5,221.46 342.85,223.4 343.2,221.23 343.55,221.22 343.9,221.45 344.25,221.76 344.6,222.04 344.95,223.52 345.3,222.96 345.65,223.74 346,221.93 346.35,222.41 346.7,223.3 347.05,221.45 347.4,222.94 347.75,222.33 348.1,223.44 348.45,223.53 348.8,221.14 349.15,221.56 349.5,222.68 349.85,221.43 350.2,222.32 350.55,222.08 350.9,220.94 351.25,221.92 351.6,222.3 351.95,221.06 352.3,222.94 352.65,221.75 353,221.72 353.35,222.52 353.7,223.91 354.05,222.62 354.4,223.55 354.75,222.84 355.1,222.03 355.45,223.33 355.8,223.76 356.15,221.86 356.5,223.16 356.85,222.85 357.2,222.6 357.55,221.13 357.9,221.92 358.25,222.4 358.6,221.68 358.95,222 359.3,220.98 359.65,222.32 360,222.67 360.35,221.47 360.7,221.87 361.05,223.14 361.4,223.78 361.75,223.73 362.1,221.21 362.45,222.71 362.8,222.04 363.15,222.26 363.5,221.18 363.85,223.67 364.2,221.75 364.55,221.47 364.9,223.09 365.25,222.18 365.6,222.79 365.95,222.93 366.3,223.19 366.65,222.79 367,223.42 367.35,222.02 367.7,221.56 368.05,223.62 368.4,223.77 368.75,221.98 369.1,222.95 369.45,223.04 369.8,221.17 370.15,221.14 370.5,222.01 370.85,222.8 371.2,222.4 371.55,223.79 371.9,223.97 372.25,222.86 372.6,222 372.95,221.48 373.3,223.32 373.65,223.46 374,222.64 374.35,222.69 374.7,222.83 375.05,223.25 375.4,223.16 375.75,223.36 376.1,223.35 376.45,222.39 376.8,222.6 377.15,221.43 377.5,222.46 377.85,223.36 378.2,224.01 378.55,223.31 378.9,221.13 379.25,221.22 379.6,222.71 379.95,223.87 380.3,221.5 380.65,223.26 381,221.54 381.35,223.39 381.7,224 382.05,222.96 382.4,223.46 382.75,222.03 383.1,221.38 383.45,221.26 383.8,222.27 384.15,221.24 384.5,222.3 384.85,223.9 385.2,221.74 385.55,221.86 385.9,221.77 386.25,223.35 386.6,221.97 386.95,221.73 387.3,221.55 387.65,223.69 388,223.34 388.35,221.93 388.7,222.54 389.05,221.57 389.4,222.88 389.75,222.83 390.1,221.72 390.45,222.17 390.8,223.68 391.15,223.69 391.5,221.99 391.85,221.43 392.2,221.13 392.55,221.55 392.9,221.4 393.25,223.15 393.6,222.12 393.95,223.26 394.3,224.05 394.65,221.81 395,223.18 395.35,222.63 395.7,222.41 396.05,221.18 396.4,222.07 396.75,221.48 397.1,221.53 397.45,221.66 397.8,221.57 398.15,222.63 398.5,222.19 398.85,223.88 399.2,221.78 399.55,223.78 399.9,221.95 400.25,221.93 400.6,221.27 400.95,222.36 401.3,222.23 401.65,223.2 402,222.77 402.35,223.21 402.7,223.77 403.05,222.34 403.4,222.41 403.75,222.31 404.1,222.38 404.45,224.15 404.8,222.98 405.15,221.92 405.5,222.29 405.85,221.75 406.2,223.69 406.55,223.89 406.9,223.25 407.25,223.1 407.6,222.11 407.95,221.17 408.3,223.73 408.65,222.95 409,221.88 409.35,223.4 409.7,223.31 410.05,222.76 410.4,223.21 410.75,223.07 411.1,221.85 411.45,221.98 411.8,222.6 412.15,222.75 412.5,221.85 412.85,223.97 413.2,222.76 413.55,223.63 413.9,221.71 414.25,222.58 414.6,223.68 414.95,223.8 415.3,222.34 415.65,223.65 416,221.66 416.35,221.51 416.7,223.62 417.05,222.57 417.4,222.4 417.75,223.3 418.1,222.65 418.45,223.49 418.8,223.26 419.15,222.78 419.5,222.33 419.85,222.36 420.2,221.82 420.55,221.4 420.9,223.38 421.25,222.2 421.6,223.73 421.95,223.14 422.3,221.84 422.65,223.61 423,222.35 423.35,222.56 423.7,223.37 424.05,222.46 424.4,223.67 424.75,222.4 425.1,224.02 425.45,224.16 425.8,222.36 426.15,222.24 426.5,223.52 426.85,222.83 427.2,223.96 427.55,221.33 427.9,222.64 428.25,223.77 428.6,222.68 428.95,222.58 429.3,222.8 429.65,223.27 430,222.47 430.35,223.3 430.7,223.57 431.05,221.62 431.4,221.5 431.75,221.58 432.1,223.53 432.45,221.44 432.8,223.41 433.15,221.44 433.5,222.53 433.85,224.27 434.2,223.9 434.55,222.29 434.9,221.3 435.25,222.11 435.6,222.23 435.95,223.87 436.3,222.82 436.65,221.45 437,223.89 437.35,223.87 437.7,221.9 438.05,222.91 438.4,222.69 438.75,223.05 439.1,223.71 439.45,224.06 439.8,221.46 440.15,222.91 440.5,223 440.85,222.13 441.2,222.19 441.55,223.72 441.9,222.68 442.25,222.65 442.6,221.49 442.95,223.24 443.3,223.91 443.65,223.11 444,224.09 444.35,223.73 444.7,223.35 445.05,222.21 445.4,223.85 445.75,224.09 446.1,221.64 446.45,223.69 446.8,222.58 447.15,222.11 447.5,223.4 447.85,221.51 448.2,221.47 448.55,222.22 448.9,223.09 449.25,223.03 449.6,224.08 449.95,223.87 450.3,223.75 450.65,222.53 451,222.49 451.35,222.03 451.7,221.64 452.05,223.54 452.4,223.4 452.75,223.85 453.1,224.13 453.45,224.18 453.8,222.24 454.15,223.62 454.5,224.16 454.85,222.83 455.2,223.17 455.55,221.64 455.9,222.19 456.25,223.91 456.6,224.15 456.95,223.18 457.3,222.41 457.65,223.35 458,222.38 458.35,222.13 458.7,221.92 459.05,222.28 459.4,223.07 459.75,223.05 460.1,223.18 460.45,221.5 460.8,221.69 461.15,221.79 461.5,222.46 461.85,223.39 462.2,221.91 462.55,222.4 462.9,224.03 463.25,221.85 463.6,224.05 463.95,222.9 464.3,221.76 464.65,221.91 465,222.94 465.35,222.01 465.7,222.03 466.05,222.14 466.4,222.93 466.75,221.47 467.1,222.89 467.45,223.14 467.8,222.11 468.15,221.89 468.5,221.52 468.85,222.99 469.2,224.1 469.55,223.17 469.9,223.22 470.25,223.57 470.6,222.18 470.95,224.39 471.3,223.3 471.65,223.89 472,223.88 472.35,224.21 472.7,224.27 473.05,222.67 473.4,222.19 473.75,223.49 474.1,222.49 474.45,222.05 474.8,222.45 475.15,224.45 475.5,222.9 475.85,223.8 476.2,223.72 476.55,222.06 476.9,224 477.25,221.75 477.6,222.52 477.95,224.37 478.3,223.71 478.65,223.96 479,224.19 479.35,223.97 479.7,223.25 480.05,223.96 480.4,224.09 480.75,224.37 481.1,224.32 481.45,224.39 481.8,222.24 482.15,222.19 482.5,222.86 482.85,222.97 483.2,223.55 483.55,222.67 483.9,223.88 484.25,224.32" fill="none" stroke="#00bfbf" stroke-width="1.6" stroke-opacity="0.85" stroke-linejoin="round"/>
<polyline points="64.7,207 65.5,212 66.3,221.5 67,214 70.5,216 76.6,219.5 80,219 85,218.2 90,218.6 100,220" fill="none" stroke="#00bfbf" stroke-width="3.2" stroke-opacity="0.9" stroke-linejoin="round"/>
<line x1="66.5" y1="215" x2="66.5" y2="169.7" stroke="#00bfbf" stroke-width="1.3" stroke-opacity="0.6"/>
<line x1="68.3" y1="216.19" x2="68.3" y2="190" stroke="#00bfbf" stroke-width="1.3" stroke-opacity="0.6"/>
<line x1="67.4" y1="216.06" x2="67.4" y2="198" stroke="#00bfbf" stroke-width="1.3" stroke-opacity="0.6"/>
<line x1="69.5" y1="216.36" x2="69.5" y2="205" stroke="#00bfbf" stroke-width="1.3" stroke-opacity="0.6"/>
<line x1="70.8" y1="216.67" x2="70.8" y2="208" stroke="#00bfbf" stroke-width="1.3" stroke-opacity="0.6"/>
<line x1="72.5" y1="217.65" x2="72.5" y2="211" stroke="#00bfbf" stroke-width="1.3" stroke-opacity="0.6"/>
<line x1="80.7" y1="219.36" x2="80.7" y2="214" stroke="#00bfbf" stroke-width="1.3" stroke-opacity="0.6"/>
<line x1="83.2" y1="218.86" x2="83.2" y2="215" stroke="#00bfbf" stroke-width="1.3" stroke-opacity="0.6"/>
<line x1="87" y1="218.7" x2="87" y2="214" stroke="#00bfbf" stroke-width="1.3" stroke-opacity="0.6"/>
<line x1="90.9" y1="219.13" x2="90.9" y2="214" stroke="#00bfbf" stroke-width="1.3" stroke-opacity="0.6"/>
<line x1="100.6" y1="220.51" x2="100.6" y2="214" stroke="#00bfbf" stroke-width="1.3" stroke-opacity="0.6"/>
<line x1="108.8" y1="220.59" x2="108.8" y2="216" stroke="#00bfbf" stroke-width="1.3" stroke-opacity="0.6"/>
<line x1="121.6" y1="220.72" x2="121.6" y2="217" stroke="#00bfbf" stroke-width="1.3" stroke-opacity="0.6"/>
<line x1="132" y1="220.82" x2="132" y2="217" stroke="#00bfbf" stroke-width="1.3" stroke-opacity="0.6"/>
<line x1="142.3" y1="220.92" x2="142.3" y2="218" stroke="#00bfbf" stroke-width="1.3" stroke-opacity="0.6"/>
<line x1="145.9" y1="220.96" x2="145.9" y2="214" stroke="#00bfbf" stroke-width="1.3" stroke-opacity="0.6"/>
<line x1="148.8" y1="220.99" x2="148.8" y2="218" stroke="#00bfbf" stroke-width="1.3" stroke-opacity="0.6"/>
<line x1="159.3" y1="221.07" x2="159.3" y2="218" stroke="#00bfbf" stroke-width="1.3" stroke-opacity="0.6"/>
<line x1="176.2" y1="221.21" x2="176.2" y2="163" stroke="#00bfbf" stroke-width="1.3" stroke-opacity="0.6"/>
<line x1="182.2" y1="221.26" x2="182.2" y2="194" stroke="#00bfbf" stroke-width="1.3" stroke-opacity="0.6"/>
<line x1="187.4" y1="221.3" x2="187.4" y2="196" stroke="#00bfbf" stroke-width="1.3" stroke-opacity="0.6"/>
<line x1="196.5" y1="221.37" x2="196.5" y2="213" stroke="#00bfbf" stroke-width="1.3" stroke-opacity="0.6"/>
<line x1="206.6" y1="221.45" x2="206.6" y2="187.5" stroke="#00bfbf" stroke-width="1.3" stroke-opacity="0.6"/>
<line x1="216.5" y1="221.53" x2="216.5" y2="213" stroke="#00bfbf" stroke-width="1.3" stroke-opacity="0.6"/>
<line x1="220.7" y1="221.57" x2="220.7" y2="92.8" stroke="#00bfbf" stroke-width="1.3" stroke-opacity="0.6"/>
<line x1="235.5" y1="221.68" x2="235.5" y2="216" stroke="#00bfbf" stroke-width="1.3" stroke-opacity="0.6"/>
<line x1="239.4" y1="221.72" x2="239.4" y2="105" stroke="#00bfbf" stroke-width="1.3" stroke-opacity="0.6"/>
<line x1="245.9" y1="221.77" x2="245.9" y2="215" stroke="#00bfbf" stroke-width="1.3" stroke-opacity="0.6"/>
<line x1="251.2" y1="221.81" x2="251.2" y2="85" stroke="#00bfbf" stroke-width="1.3" stroke-opacity="0.6"/>
<line x1="261.4" y1="221.89" x2="261.4" y2="35.7" stroke="#00bfbf" stroke-width="1.3" stroke-opacity="0.6"/>
<line x1="271.3" y1="221.97" x2="271.3" y2="72.2" stroke="#00bfbf" stroke-width="1.3" stroke-opacity="0.6"/>
<line x1="286.6" y1="222.09" x2="286.6" y2="171" stroke="#00bfbf" stroke-width="1.3" stroke-opacity="0.6"/>
<line x1="301.1" y1="222.2" x2="301.1" y2="110" stroke="#00bfbf" stroke-width="1.3" stroke-opacity="0.6"/>
<line x1="315.5" y1="222.27" x2="315.5" y2="181" stroke="#00bfbf" stroke-width="1.3" stroke-opacity="0.6"/>
<line x1="325.8" y1="222.31" x2="325.8" y2="169" stroke="#00bfbf" stroke-width="1.3" stroke-opacity="0.6"/>
<line x1="341.7" y1="222.38" x2="341.7" y2="167" stroke="#00bfbf" stroke-width="1.3" stroke-opacity="0.6"/>
<line x1="351.9" y1="222.42" x2="351.9" y2="71" stroke="#00bfbf" stroke-width="1.3" stroke-opacity="0.6"/>
<line x1="363" y1="222.47" x2="363" y2="163" stroke="#00bfbf" stroke-width="1.3" stroke-opacity="0.6"/>
<line x1="376.5" y1="222.53" x2="376.5" y2="106.5" stroke="#00bfbf" stroke-width="1.3" stroke-opacity="0.6"/>
<line x1="384.7" y1="222.57" x2="384.7" y2="192" stroke="#00bfbf" stroke-width="1.3" stroke-opacity="0.6"/>
<line x1="393" y1="222.6" x2="393" y2="218" stroke="#00bfbf" stroke-width="1.3" stroke-opacity="0.6"/>
<line x1="400.1" y1="222.63" x2="400.1" y2="90" stroke="#00bfbf" stroke-width="1.3" stroke-opacity="0.6"/>
<line x1="414" y1="222.69" x2="414" y2="163" stroke="#00bfbf" stroke-width="1.3" stroke-opacity="0.6"/>
<line x1="419.8" y1="222.72" x2="419.8" y2="220" stroke="#00bfbf" stroke-width="1.3" stroke-opacity="0.6"/>
<line x1="430.2" y1="222.76" x2="430.2" y2="150" stroke="#00bfbf" stroke-width="1.3" stroke-opacity="0.6"/>
<line x1="442.4" y1="222.82" x2="442.4" y2="215" stroke="#00bfbf" stroke-width="1.3" stroke-opacity="0.6"/>
<line x1="448.3" y1="222.84" x2="448.3" y2="185" stroke="#00bfbf" stroke-width="1.3" stroke-opacity="0.6"/>
<line x1="468.7" y1="222.93" x2="468.7" y2="172" stroke="#00bfbf" stroke-width="1.3" stroke-opacity="0.6"/>
<line x1="473" y1="222.95" x2="473" y2="216" stroke="#00bfbf" stroke-width="1.3" stroke-opacity="0.6"/>
<line x1="475.5" y1="222.96" x2="475.5" y2="217" stroke="#00bfbf" stroke-width="1.3" stroke-opacity="0.6"/>
<line x1="480.6" y1="222.98" x2="480.6" y2="218" stroke="#00bfbf" stroke-width="1.3" stroke-opacity="0.6"/>
<line x1="176.2" y1="163" x2="176.2" y2="196" stroke="#ff0000" stroke-width="1.2" stroke-opacity="0.8"/>
<line x1="220.8" y1="154" x2="220.8" y2="198" stroke="#ff0000" stroke-width="1.2" stroke-opacity="0.8"/>
<line x1="239.5" y1="142" x2="239.5" y2="189" stroke="#ff0000" stroke-width="1.2" stroke-opacity="0.8"/>
<line x1="251.6" y1="143" x2="251.6" y2="222" stroke="#ff0000" stroke-width="1.2" stroke-opacity="0.8"/>
<line x1="261.4" y1="137" x2="261.4" y2="234.5" stroke="#ff0000" stroke-width="1.2" stroke-opacity="0.8"/>
<line x1="271.1" y1="133" x2="271.1" y2="197" stroke="#ff0000" stroke-width="1.2" stroke-opacity="0.8"/>
<line x1="301" y1="128" x2="301" y2="234.5" stroke="#ff0000" stroke-width="1.2" stroke-opacity="0.8"/>
<line x1="325.8" y1="129" x2="325.8" y2="205" stroke="#ff0000" stroke-width="1.2" stroke-opacity="0.8"/>
<line x1="351.7" y1="137" x2="351.7" y2="211" stroke="#ff0000" stroke-width="1.2" stroke-opacity="0.8"/>
<line x1="363" y1="128" x2="363" y2="234.5" stroke="#ff0000" stroke-width="1.2" stroke-opacity="0.8"/>
<line x1="376.9" y1="125" x2="376.9" y2="234.5" stroke="#ff0000" stroke-width="1.2" stroke-opacity="0.8"/>
<line x1="384.7" y1="132" x2="384.7" y2="193" stroke="#ff0000" stroke-width="1.2" stroke-opacity="0.8"/>
<line x1="414" y1="134" x2="414" y2="234.5" stroke="#ff0000" stroke-width="1.2" stroke-opacity="0.8"/>
<line x1="430.2" y1="118" x2="430.2" y2="148" stroke="#ff0000" stroke-width="1.2" stroke-opacity="0.8"/>
<line x1="468.7" y1="115" x2="468.7" y2="172" stroke="#ff0000" stroke-width="1.2" stroke-opacity="0.8"/>
<polygon points="64.4,97.19 65.4,98.37 66.4,99.55 67.4,101.5 68.4,103.99 69.4,106.99 70.4,109.43 71.4,111.03 72.4,112.63 73.4,115.19 74.4,118.68 75.4,125.18 76.4,132.28 77.4,140.28 78.4,147.08 79.4,149.88 80.4,154.07 81.4,155.07 82.4,156.07 83.4,156.8 84.4,156.4 85.4,156.01 86.4,155.62 87.4,155.23 88.4,154.98 89.4,156 90.4,157.03 91.4,158.05 92.4,159.38 93.4,161.93 94.4,164.48 95.4,167.58 96.4,170.13 97.4,172.65 98.4,174.88 99.4,177.12 100.4,179.35 101.4,181.59 102.4,183.83 103.4,186 104.4,188.18 105.4,190.35 106.4,192.53 107.4,194.71 108.4,195.07 109.4,195.84 110.4,196.06 111.4,195 112.4,193.94 113.4,192.88 114.4,191.82 115.4,190.91 116.4,190.6 117.4,190.28 118.4,189.97 119.4,189.66 120.4,189.42 121.4,189.91 122.4,190.39 123.4,190.88 124.4,191.36 125.4,191.84 126.4,192.33 127.4,192.75 128.4,193.16 129.4,193.58 130.4,194 131.4,194.41 132.4,194.83 133.4,195.06 134.4,195.03 135.4,195 136.4,194.97 137.4,194.94 138.4,194.91 139.4,194.88 140.4,194.69 141.4,194.45 142.4,194.22 143.4,193.98 144.4,193.75 145.4,193.52 146.4,193.22 147.4,192.83 148.4,192.44 149.4,192.05 150.4,191.66 151.4,191.27 152.4,190.88 153.4,190.57 154.4,190.27 155.4,189.97 156.4,189.66 157.4,189.36 158.4,189.06 159.4,188.81 160.4,188.66 161.4,188.51 162.4,188.35 163.4,188.2 164.4,188.04 165.4,187.89 166.4,187.74 167.4,187.58 168.4,187.43 169.4,187.28 170.4,187.12 171.4,186.97 172.4,186.82 173.4,186.7 174.4,186.57 175.4,186.45 176.4,163.66 177.4,169.59 178.4,173.99 179.4,177.26 180.4,179.67 181.4,181.45 182.4,169.27 183.4,174.8 184.4,178.9 185.4,181.94 186.4,184.18 187.4,185.83 188.4,164.08 189.4,166.94 190.4,169.2 191.4,170.99 192.4,172.39 193.4,173.49 194.4,174.35 195.4,175.02 196.4,175.54 197.4,175.94 198.4,176.25 199.4,176.48 200.4,176.66 201.4,176.8 202.4,176.89 203.4,176.96 204.4,177.02 205.4,177.05 206.4,177.07 207.4,157.88 208.4,162.18 209.4,165.59 210.4,168.29 211.4,170.43 212.4,172.12 213.4,173.45 214.4,174.5 215.4,175.32 216.4,175.97 217.4,176.47 218.4,176.86 219.4,177.16 220.4,177.39 221.4,156.65 222.4,160.95 223.4,164.51 224.4,167.46 225.4,169.9 226.4,171.92 227.4,173.59 228.4,174.96 229.4,176.09 230.4,177.02 231.4,177.79 232.4,178.42 233.4,178.93 234.4,179.35 235.4,179.7 236.4,179.98 237.4,180.2 238.4,180.39 239.4,180.53 240.4,147.92 241.4,153.8 242.4,158.48 243.4,162.2 244.4,165.15 245.4,167.49 246.4,169.34 247.4,170.81 248.4,171.97 249.4,172.88 250.4,173.6 251.4,174.16 252.4,147.2 253.4,152.23 254.4,156.23 255.4,159.4 256.4,161.91 257.4,163.9 258.4,165.48 259.4,166.72 260.4,167.7 261.4,136.35 262.4,142.02 263.4,146.62 264.4,150.37 265.4,153.42 266.4,155.89 267.4,157.89 268.4,159.52 269.4,160.83 270.4,161.89 271.4,133.98 272.4,139.4 273.4,143.89 274.4,147.62 275.4,150.7 276.4,153.26 277.4,155.37 278.4,157.12 279.4,158.56 280.4,159.75 281.4,160.73 282.4,161.54 283.4,162.2 284.4,162.75 285.4,163.19 286.4,163.56 287.4,134.27 288.4,139.79 289.4,144.38 290.4,148.18 291.4,151.33 292.4,153.93 293.4,156.09 294.4,157.88 295.4,159.36 296.4,160.57 297.4,161.58 298.4,162.41 299.4,163.09 300.4,163.65 301.4,129.69 302.4,135.48 303.4,140.29 304.4,144.28 305.4,147.59 306.4,150.32 307.4,152.59 308.4,154.47 309.4,156.02 310.4,157.3 311.4,158.35 312.4,159.22 313.4,159.94 314.4,160.52 315.4,161.01 316.4,142.1 317.4,146.56 318.4,150.1 319.4,152.91 320.4,155.13 321.4,156.89 322.4,158.27 323.4,159.36 324.4,160.22 325.4,160.89 326.4,131.99 327.4,137.14 328.4,141.48 329.4,145.13 330.4,148.21 331.4,150.8 332.4,152.98 333.4,154.81 334.4,156.35 335.4,157.64 336.4,158.72 337.4,159.63 338.4,160.39 339.4,161.02 340.4,161.55 341.4,161.99 342.4,133.57 343.4,138.99 344.4,143.41 345.4,146.99 346.4,149.91 347.4,152.28 348.4,154.2 349.4,155.76 350.4,157.02 351.4,158.03 352.4,140.04 353.4,144.48 354.4,148.08 355.4,151 356.4,153.37 357.4,155.29 358.4,156.85 359.4,158.11 360.4,159.12 361.4,159.94 362.4,160.6 363.4,129.27 364.4,134.14 365.4,138.17 366.4,141.51 367.4,144.28 368.4,146.57 369.4,148.46 370.4,150.03 371.4,151.32 372.4,152.38 373.4,153.26 374.4,153.98 375.4,154.57 376.4,155.05 377.4,128.26 378.4,135.39 379.4,140.9 380.4,145.15 381.4,148.44 382.4,150.97 383.4,152.91 384.4,154.4 385.4,134.51 386.4,138.65 387.4,142.15 388.4,145.08 389.4,147.55 390.4,149.63 391.4,151.37 392.4,152.83 393.4,154.06 394.4,155.09 395.4,155.94 396.4,156.66 397.4,157.26 398.4,157.76 399.4,158.18 400.4,131.28 401.4,136.31 402.4,140.49 403.4,143.95 404.4,146.82 405.4,149.19 406.4,151.15 407.4,152.77 408.4,154.1 409.4,155.2 410.4,156.11 411.4,156.86 412.4,157.47 413.4,157.97 414.4,134.95 415.4,138.73 416.4,141.91 417.4,144.58 418.4,146.82 419.4,148.71 420.4,150.29 421.4,151.61 422.4,152.72 423.4,153.65 424.4,154.43 425.4,155.07 426.4,155.61 427.4,156.06 428.4,156.43 429.4,156.74 430.4,119.59 431.4,127.74 432.4,134.39 433.4,139.81 434.4,144.22 435.4,147.81 436.4,150.73 437.4,153.1 438.4,155.03 439.4,156.6 440.4,157.87 441.4,158.89 442.4,159.72 443.4,152.26 444.4,155.42 445.4,157.61 446.4,159.13 447.4,160.18 448.4,160.89 449.4,131.15 450.4,136.73 451.4,141.44 452.4,145.4 453.4,148.74 454.4,151.56 455.4,153.92 456.4,155.91 457.4,157.59 458.4,158.99 459.4,160.17 460.4,161.16 461.4,161.99 462.4,162.68 463.4,163.26 464.4,163.75 465.4,164.15 466.4,164.49 467.4,164.77 468.4,165 469.4,122.69 470.4,130.81 471.4,136.16 472.4,139.69 473.4,133.25 474.4,140.13 475.4,143.47 476.4,140.29 477.4,145.12 478.4,148.52 479.4,150.9 480.4,152.56 481.4,148.99 482.4,152.21 483.4,154.45 484.4,158.35 484.4,161.65 483.4,158.18 482.4,155.13 481.4,150.97 480.4,157.59 479.4,155.36 478.4,152.31 477.4,148.13 476.4,142.37 475.4,147.99 474.4,143.23 473.4,134.35 472.4,144.47 471.4,140.2 470.4,133.93 469.4,124.71 468.4,171.79 467.4,171.44 466.4,171.03 465.4,170.56 464.4,170 463.4,169.35 462.4,168.59 461.4,167.71 460.4,166.67 459.4,165.45 458.4,164.02 457.4,162.34 456.4,160.38 455.4,158.07 454.4,155.35 453.4,152.16 452.4,148.41 451.4,144 450.4,138.81 449.4,132.71 448.4,166.26 447.4,165.05 446.4,163.41 445.4,161.19 444.4,158.16 443.4,154.03 442.4,165.79 441.4,164.74 440.4,163.47 439.4,161.93 438.4,160.07 437.4,157.82 436.4,155.08 435.4,151.76 434.4,147.73 433.4,142.83 432.4,136.88 431.4,129.64 430.4,120.83 429.4,162.93 428.4,162.45 427.4,161.9 426.4,161.25 425.4,160.49 424.4,159.61 423.4,158.58 422.4,157.37 421.4,155.95 420.4,154.3 419.4,152.36 418.4,150.09 417.4,147.42 416.4,144.29 415.4,140.61 414.4,136.28 413.4,163.99 412.4,163.29 411.4,162.45 410.4,161.47 409.4,160.29 408.4,158.9 407.4,157.25 406.4,155.28 405.4,152.94 404.4,150.15 403.4,146.83 402.4,142.87 401.4,138.14 400.4,132.5 399.4,164.25 398.4,163.65 397.4,162.96 396.4,162.15 395.4,161.2 394.4,160.09 393.4,158.79 392.4,157.27 391.4,155.48 390.4,153.39 389.4,150.93 388.4,148.05 387.4,144.66 386.4,140.68 385.4,136.01 384.4,159.79 383.4,157.93 382.4,155.57 381.4,152.57 380.4,148.75 379.4,143.89 378.4,137.69 377.4,129.79 376.4,161.11 375.4,160.43 374.4,159.62 373.4,158.66 372.4,157.53 371.4,156.18 370.4,154.58 369.4,152.67 368.4,150.4 367.4,147.7 366.4,144.49 365.4,140.65 364.4,136.08 363.4,130.62 362.4,166.32 361.4,165.41 360.4,164.31 359.4,162.99 358.4,161.39 357.4,159.45 356.4,157.11 355.4,154.28 354.4,150.84 353.4,146.68 352.4,141.62 351.4,163.5 350.4,162.21 349.4,160.64 348.4,158.74 347.4,156.44 346.4,153.65 345.4,150.27 344.4,146.17 343.4,141.19 342.4,135.14 341.4,168.21 340.4,167.61 339.4,166.89 338.4,166.06 337.4,165.09 336.4,163.95 335.4,162.61 334.4,161.05 333.4,159.21 332.4,157.06 331.4,154.53 330.4,151.55 329.4,148.06 328.4,143.95 327.4,139.12 326.4,133.43 325.4,166.58 324.4,165.62 323.4,164.44 322.4,162.99 321.4,161.21 320.4,159 319.4,156.28 318.4,152.91 317.4,148.74 316.4,143.58 315.4,167.25 314.4,166.58 313.4,165.8 312.4,164.86 311.4,163.76 310.4,162.44 309.4,160.87 308.4,159.01 307.4,156.8 306.4,154.16 305.4,151.01 304.4,147.25 303.4,142.77 302.4,137.43 301.4,131.04 300.4,169.78 299.4,169.03 298.4,168.14 297.4,167.08 296.4,165.83 295.4,164.33 294.4,162.55 293.4,160.44 292.4,157.92 291.4,154.92 290.4,151.33 289.4,147.06 288.4,141.96 287.4,135.87 286.4,169.95 285.4,169.41 284.4,168.79 283.4,168.04 282.4,167.16 281.4,166.11 280.4,164.87 279.4,163.39 278.4,161.63 277.4,159.54 276.4,157.05 275.4,154.08 274.4,150.54 273.4,146.32 272.4,141.28 271.4,135.27 270.4,167.17 269.4,165.81 268.4,164.16 267.4,162.17 266.4,159.76 265.4,156.84 264.4,153.3 263.4,149 262.4,143.78 261.4,137.45 260.4,173.19 259.4,171.9 258.4,170.31 257.4,168.35 256.4,165.92 255.4,162.92 254.4,159.21 253.4,154.6 252.4,148.89 251.4,180.42 250.4,179.64 249.4,178.68 248.4,177.49 247.4,176.02 246.4,174.21 245.4,171.97 244.4,169.2 243.4,165.77 242.4,161.52 241.4,156.24 240.4,149.69 239.4,187.37 238.4,187.1 237.4,186.79 236.4,186.41 235.4,185.97 234.4,185.45 233.4,184.83 232.4,184.11 231.4,183.24 230.4,182.22 229.4,181.01 228.4,179.57 227.4,177.86 226.4,175.83 225.4,173.41 224.4,170.53 223.4,167.09 222.4,163 221.4,158.12 220.4,184.02 219.4,183.6 218.4,183.1 217.4,182.49 216.4,181.74 215.4,180.81 214.4,179.68 213.4,178.28 212.4,176.56 211.4,174.44 210.4,171.81 209.4,168.57 208.4,164.55 207.4,159.58 206.4,184.34 205.4,184.22 204.4,184.07 203.4,183.89 202.4,183.67 201.4,183.42 200.4,183.1 199.4,182.73 198.4,182.27 197.4,181.71 196.4,181.03 195.4,180.2 194.4,179.18 193.4,177.93 192.4,176.4 191.4,174.51 190.4,172.19 189.4,169.32 188.4,165.78 187.4,190.62 186.4,188.46 185.4,185.62 184.4,181.9 183.4,177.01 182.4,170.57 181.4,186.24 180.4,183.95 179.4,180.94 178.4,176.99 177.4,171.8 176.4,164.96 175.4,194.7 174.4,194.82 173.4,194.95 172.4,195.07 171.4,195.22 170.4,195.37 169.4,195.53 168.4,195.68 167.4,195.83 166.4,195.99 165.4,196.14 164.4,196.29 163.4,196.45 162.4,196.6 161.4,196.76 160.4,196.91 159.4,197.06 158.4,197.31 157.4,197.61 156.4,197.91 155.4,198.22 154.4,198.52 153.4,198.82 152.4,199.12 151.4,199.52 150.4,199.91 149.4,200.3 148.4,200.69 147.4,201.08 146.4,201.47 145.4,201.77 144.4,202 143.4,202.23 142.4,202.47 141.4,202.7 140.4,202.94 139.4,203.13 138.4,203.16 137.4,203.19 136.4,203.22 135.4,203.25 134.4,203.28 133.4,203.31 132.4,203.08 131.4,202.66 130.4,202.25 129.4,201.83 128.4,201.41 127.4,201 126.4,200.58 125.4,200.09 124.4,199.61 123.4,199.12 122.4,198.64 121.4,198.16 120.4,197.67 119.4,197.91 118.4,198.22 117.4,198.53 116.4,198.85 115.4,199.16 114.4,200.07 113.4,201.13 112.4,202.19 111.4,203.25 110.4,204.31 109.4,204.09 108.4,203.32 107.4,201.86 106.4,199.68 105.4,197.5 104.4,195.33 103.4,193.15 102.4,190.97 101.4,188.74 100.4,186.5 99.4,184.27 98.4,182.03 97.4,179.8 96.4,177.28 95.4,174.73 94.4,172.73 93.4,170.18 92.4,167.63 91.4,166.3 90.4,165.28 89.4,164.25 88.4,163.23 87.4,163.48 86.4,163.87 85.4,164.26 84.4,164.65 83.4,165.05 82.4,164.32 81.4,163.32 80.4,162.32 79.4,158.13 78.4,150.93 77.4,144.13 76.4,136.13 75.4,129.03 74.4,122.53 73.4,117.61 72.4,115.05 71.4,113.45 70.4,111.85 69.4,109.41 68.4,106.41 67.4,103.92 66.4,101.97 65.4,100.79 64.4,99.61" fill="#ff0000" stroke="#ff0000" stroke-width="0.8" stroke-linejoin="round"/>
<polyline points="64.4,98.09 64.8,99.49 65.2,99.07 65.6,99.44 66,99.17 66.4,100.51 66.8,102.77 67.2,102.8 67.6,104.4 68,104.3 68.4,105.68 68.8,106.62 69.2,105.58 69.6,109.83 70,110.61 70.4,111.24 70.8,109.23 71.2,109.81 71.6,111.48 72,112.63 72.4,114.21 72.8,114.74 73.2,116.5 73.6,116.16 74,118.59 74.4,121.36 74.8,121.93 75.2,129.11 75.6,129.47 76,133.3 76.4,133.01 76.8,135.98 77.2,139.94 77.6,143.6 78,148.22 78.4,149.48 78.8,150.14 79.2,149.05 79.6,152.85 80,162.04 80.4,154.87 80.8,159.61 81.2,160.76 81.6,153.25 82,160 82.4,165.59 82.8,152.29 83.2,159.67 83.6,160.41 84,157.32 84.4,162.58 84.8,160.12 85.2,154.17 85.6,163.47 86,162.66 86.4,163.65 86.8,165.53 87.2,160.93 87.6,159.77 88,153.76 88.4,161.64 88.8,156.99 89.2,158.06 89.6,155.12 90,156.75 90.4,158.96 90.8,166.88 91.2,153.59 91.6,156.37 92,163.78 92.4,169.46 92.8,166.92 93.2,157.71 93.6,157.19 94,169.06 94.4,165.57 94.8,165.01 95.2,174.14 95.6,175.61 96,173.25 96.4,174.58 96.8,176.28 97.2,181.44 97.6,178.88 98,179.42 98.4,180.42 98.8,173.75 99.2,184.83 99.6,184.56 100,183.93 100.4,175.87 100.8,181.56 101.2,187.73 101.6,179.14 102,185.85 102.4,191.04 102.8,183.58 103.2,194.9 103.6,191.99 104,190.35 104.4,192.91 104.8,194.95 105.2,193.92 105.6,198.46 106,192.87 106.4,194.62 106.8,200.7 107.2,197.94 107.6,195.43 108,202.79 108.4,205.24 108.8,197.67 109.2,194.12 109.6,199.56 110,199.81 110.4,198.95 110.8,205.55 111.2,195.1 111.6,204.11 112,193.26 112.4,194.82 112.8,200.25 113.2,201.87 113.6,200.34 114,197.79 114.4,196.53 114.8,196.15 115.2,197.47 115.6,194.25 116,195.99 116.4,197.09 116.8,194.6 117.2,197.62 117.6,196.68 118,202.52 118.4,195.44 118.8,192.21 119.2,192.31 119.6,193.67 120,197.4 120.4,192.16 120.8,195.33 121.2,201.51 121.6,184.75 122,189.69 122.4,195.52 122.8,196.35 123.2,195.89 123.6,193.32 124,197.99 124.4,196.65 124.8,193.52 125.2,205.25 125.6,197.53 126,193.97 126.4,196.04 126.8,195.69 127.2,196.53 127.6,187.58 128,195.11 128.4,201.45 128.8,192.64 129.2,197.35 129.6,201.72 130,201.49 130.4,204.27 130.8,191.27 131.2,196.99 131.6,197.21 132,201.36 132.4,203.45 132.8,189.74 133.2,203.68 133.6,193.21 134,201.99 134.4,193 134.8,199.87 135.2,204.06 135.6,198.51 136,199.9 136.4,202.39 136.8,199.67 137.2,198.71 137.6,205.39 138,203.37 138.4,197.82 138.8,208.4 139.2,194.28 139.6,202.77 140,197.81 140.4,199.36 140.8,201.63 141.2,199.54 141.6,201.17 142,192.14 142.4,192.12 142.8,200.79 143.2,194.18 143.6,193.83 144,191.9 144.4,203.1 144.8,200.86 145.2,203.76 145.6,193.73 146,197.5 146.4,192.64 146.8,200.35 147.2,203.59 147.6,193.2 148,203.16 148.4,200.64 148.8,195.67 149.2,188.12 149.6,201.9 150,195.54 150.4,193.29 150.8,197.27 151.2,197.16 151.6,201.49 152,190.95 152.4,199.69 152.8,201.01 153.2,200.75 153.6,193.89 154,191.45 154.4,198.6 154.8,194.75 155.2,194.66 155.6,199.91 156,192.82 156.4,184.41 156.8,192.07 157.2,185.9 157.6,196.8 158,194.61 158.4,190.66 158.8,193.02 159.2,196.4 159.6,193.23 160,198.32 160.4,192.53 160.8,197.01 161.2,198.81 161.6,199.24 162,189.77 162.4,196.11 162.8,184.68 163.2,187.89 163.6,184.2 164,196.64 164.4,187.09 164.8,192.06 165.2,191.25 165.6,191.87 166,189.48 166.4,192.83 166.8,199.19 167.2,191.92 167.6,193.87 168,195.74 168.4,190.74 168.8,186.3 169.2,189.14 169.6,195.8 170,184.52 170.4,188.78 170.8,195.34 171.2,194.39 171.6,191.09 172,194.32 172.4,191.63 172.8,186.04 173.2,184.4 173.6,188.16 174,194.56 174.4,188.37 174.8,186.93 175.2,187.42 175.6,184.23 176,190.02 176.4,163.54 176.8,167.39 177.2,167.24 177.6,172.16 178,172.87 178.4,172.58 178.8,178.25 179.2,177.97 179.6,175.46 180,179.04 180.4,182.43 180.8,181.66 181.2,185.31 181.6,186.01 182,186.5 182.4,170.13 182.8,173.64 183.2,175.51 183.6,177.44 184,175.94 184.4,181.74 184.8,184.02 185.2,182.65 185.6,183.45 186,189.32 186.4,182.56 186.8,188.2 187.2,193.22 187.6,161.29 188,163.92 188.4,166.53 188.8,166.18 189.2,168.18 189.6,169.82 190,168.49 190.4,170.56 190.8,172.04 191.2,173.78 191.6,173.04 192,173.4 192.4,172.36 192.8,174.2 193.2,177.41 193.6,176.17 194,174.37 194.4,174.73 194.8,182.78 195.2,180.37 195.6,179.43 196,171.93 196.4,179.99 196.8,179.86 197.2,183.54 197.6,180.16 198,178.9 198.4,180.83 198.8,173.47 199.2,182.74 199.6,180.69 200,177.55 200.4,184.15 200.8,185.87 201.2,175.45 201.6,177.93 202,181.2 202.4,180.91 202.8,178.98 203.2,177.04 203.6,187.82 204,184.13 204.4,176.33 204.8,175.81 205.2,186.7 205.6,184.2 206,187.26 206.4,183.65 206.8,154.86 207.2,157.87 207.6,157.75 208,160.84 208.4,163.3 208.8,165.64 209.2,165.36 209.6,167.53 210,169.7 210.4,170.72 210.8,172.26 211.2,172.41 211.6,172.18 212,175.31 212.4,174.45 212.8,173.09 213.2,174.1 213.6,176.13 214,176.35 214.4,177.49 214.8,177.5 215.2,178.37 215.6,177.87 216,174.99 216.4,180.07 216.8,182.21 217.2,180.66 217.6,179.01 218,181.17 218.4,176.97 218.8,174.16 219.2,180.5 219.6,177.44 220,183.01 220.4,177.12 220.8,152.95 221.2,155.66 221.6,159.63 222,159.89 222.4,160.57 222.8,162.72 223.2,165.74 223.6,167.15 224,168.04 224.4,171.27 224.8,171.26 225.2,171.12 225.6,173.2 226,176.14 226.4,175.77 226.8,176.73 227.2,173.1 227.6,175.73 228,178.32 228.4,176.58 228.8,180.34 229.2,179.76 229.6,181.04 230,178.68 230.4,185.53 230.8,183.29 231.2,179.77 231.6,180.93 232,187.34 232.4,180.29 232.8,184.05 233.2,184.64 233.6,182.01 234,178.69 234.4,182.97 234.8,183.69 235.2,186.28 235.6,185.38 236,183.14 236.4,185.94 236.8,185.07 237.2,184.11 237.6,183.73 238,182.84 238.4,186.05 238.8,180.26 239.2,181.77 239.6,142.74 240,144.82 240.4,148.42 240.8,149.4 241.2,153.1 241.6,156.84 242,158.94 242.4,159.92 242.8,161.32 243.2,160.8 243.6,168.04 244,166.98 244.4,169.39 244.8,166.4 245.2,168.86 245.6,166.02 246,172.86 246.4,174.05 246.8,167.72 247.2,172.98 247.6,175.37 248,169.48 248.4,169.69 248.8,172.18 249.2,173.78 249.6,171.86 250,176.4 250.4,177.37 250.8,178.85 251.2,179.35 251.6,143.63 252,146.36 252.4,146.93 252.8,149.84 253.2,151.24 253.6,153.01 254,156 254.4,157.72 254.8,159.97 255.2,157.82 255.6,159.52 256,162.84 256.4,163.52 256.8,164.21 257.2,165.59 257.6,164.79 258,168.88 258.4,168.75 258.8,168.28 259.2,167.33 259.6,169.1 260,163.92 260.4,167.75 260.8,170.94 261.2,166.89 261.6,138.32 262,140.75 262.4,141.68 262.8,144.73 263.2,146.55 263.6,149.25 264,151.15 264.4,151.78 264.8,151.9 265.2,154.28 265.6,155.6 266,158.17 266.4,158.39 266.8,157.3 267.2,156.78 267.6,159.61 268,159.49 268.4,159.26 268.8,162.19 269.2,161.84 269.6,163.84 270,165.42 270.4,163.44 270.8,171.07 271.2,133.17 271.6,136.63 272,138.28 272.4,141.39 272.8,139.96 273.2,143.35 273.6,146.27 274,148.4 274.4,152.4 274.8,150.98 275.2,153.88 275.6,154.31 276,155.83 276.4,156.12 276.8,155.81 277.2,158.07 277.6,155.58 278,161.23 278.4,157.08 278.8,160.63 279.2,165.73 279.6,160.71 280,161.85 280.4,165.28 280.8,162.85 281.2,161.06 281.6,164.32 282,165.61 282.4,166.34 282.8,162.47 283.2,170.06 283.6,170.16 284,165.58 284.4,166.58 284.8,164.68 285.2,170.58 285.6,164.2 286,168.71 286.4,165.22 286.8,130.62 287.2,134.3 287.6,137.46 288,138.67 288.4,140.14 288.8,143.88 289.2,144.75 289.6,147.02 290,150.49 290.4,151.54 290.8,150.31 291.2,156.48 291.6,153.73 292,156.37 292.4,154.64 292.8,156.82 293.2,154.09 293.6,162.63 294,162.58 294.4,157.38 294.8,157.29 295.2,157.55 295.6,165.09 296,161.5 296.4,163.04 296.8,162.84 297.2,163.79 297.6,161.51 298,164.98 298.4,161.15 298.8,165.4 299.2,166.82 299.6,167.6 300,165.76 300.4,163.94 300.8,167.44 301.2,128.71 301.6,132.83 302,134.81 302.4,136.34 302.8,138.09 303.2,139.75 303.6,141.23 304,143.67 304.4,146.2 304.8,148.07 305.2,149.59 305.6,153.61 306,149.83 306.4,152.26 306.8,157.8 307.2,150.38 307.6,154.02 308,156.34 308.4,157.09 308.8,158.41 309.2,157.56 309.6,159.65 310,159.46 310.4,161.85 310.8,155.4 311.2,158.46 311.6,161.26 312,158.8 312.4,159.09 312.8,164.19 313.2,160.82 313.6,164.89 314,165.52 314.4,164.48 314.8,165.35 315.2,163.7 315.6,159.81 316,140.58 316.4,143.18 316.8,144.43 317.2,146.67 317.6,149.36 318,148.94 318.4,152.41 318.8,155.66 319.2,153.13 319.6,155.39 320,155.87 320.4,160.05 320.8,158.55 321.2,160.59 321.6,157.87 322,160 322.4,160.61 322.8,156.85 323.2,165.28 323.6,164.44 324,157.92 324.4,164.93 324.8,162.9 325.2,164.85 325.6,164.92 326,129.37 326.4,132.56 326.8,136.23 327.2,136.58 327.6,138.04 328,139.42 328.4,141.21 328.8,144.79 329.2,148.27 329.6,147.94 330,149.02 330.4,153.61 330.8,150.14 331.2,150.91 331.6,154.17 332,155.2 332.4,152.95 332.8,153.39 333.2,157.27 333.6,157.92 334,155.06 334.4,158.22 334.8,157.99 335.2,160.99 335.6,160.09 336,160.65 336.4,160.41 336.8,164.57 337.2,165.93 337.6,161.53 338,165.26 338.4,161.07 338.8,163.74 339.2,166.01 339.6,168.57 340,163.2 340.4,164.35 340.8,165.4 341.2,160.37 341.6,165.25 342,131.28 342.4,134.65 342.8,135.75 343.2,136.98 343.6,141.15 344,143.35 344.4,144.03 344.8,147.74 345.2,147.49 345.6,148.29 346,151.45 346.4,148.85 346.8,151.55 347.2,153.84 347.6,156.61 348,155.32 348.4,157.17 348.8,155.67 349.2,158.6 349.6,162.62 350,157.34 350.4,165.51 350.8,158.39 351.2,160.6 351.6,161.45 352,139.32 352.4,139.86 352.8,140.92 353.2,145.33 353.6,147.34 354,148.79 354.4,152.6 354.8,151.11 355.2,152.46 355.6,154.77 356,154.92 356.4,158.35 356.8,153.72 357.2,156.22 357.6,152.94 358,160.25 358.4,158.27 358.8,161.89 359.2,165.47 359.6,160.79 360,160.63 360.4,160.42 360.8,159.9 361.2,160.79 361.6,164.61 362,163.27 362.4,163.65 362.8,163.23 363.2,129.35 363.6,131.42 364,133.03 364.4,135.75 364.8,136.76 365.2,137.24 365.6,142.06 366,142.29 366.4,141.58 366.8,145.97 367.2,146.01 367.6,143.79 368,150.5 368.4,149.13 368.8,151.14 369.2,150.59 369.6,150.62 370,148.23 370.4,154.51 370.8,152.98 371.2,152.79 371.6,154.87 372,154.69 372.4,156.69 372.8,154.4 373.2,155.67 373.6,150.31 374,155.31 374.4,158.7 374.8,160.92 375.2,156.31 375.6,157.26 376,162.59 376.4,157.09 376.8,160.53 377.2,128.42 377.6,130.71 378,134.99 378.4,135.72 378.8,139.33 379.2,141.23 379.6,143.58 380,147.16 380.4,151.04 380.8,147.21 381.2,148.7 381.6,152.16 382,149.91 382.4,154.41 382.8,155.56 383.2,154.35 383.6,157.14 384,152.41 384.4,159.14 384.8,131.34 385.2,133.8 385.6,135.75 386,137.63 386.4,140.54 386.8,141.33 387.2,142.22 387.6,144.79 388,147.57 388.4,146.58 388.8,148.26 389.2,150.79 389.6,150.19 390,148.33 390.4,155.78 390.8,156.63 391.2,149.05 391.6,153.69 392,155.33 392.4,157.19 392.8,157.15 393.2,155.53 393.6,154.15 394,157.4 394.4,160.17 394.8,155.22 395.2,155.71 395.6,158.68 396,153.86 396.4,158.69 396.8,158.48 397.2,161.25 397.6,158.22 398,157.91 398.4,159.55 398.8,160.77 399.2,159.11 399.6,161.34 400,163.79 400.4,132.62 400.8,135.4 401.2,135.57 401.6,137.78 402,137.54 402.4,143.93 402.8,142.31 403.2,144.65 403.6,146.83 404,145.17 404.4,149.26 404.8,149.53 405.2,147.23 405.6,152.08 406,154.78 406.4,149.35 406.8,155.7 407.2,155.14 407.6,156.41 408,156.97 408.4,159.63 408.8,156.48 409.2,159.72 409.6,156.92 410,160.31 410.4,156.61 410.8,158.86 411.2,164.3 411.6,161.07 412,159.65 412.4,157.05 412.8,158.3 413.2,161.45 413.6,163.93 414,162.6 414.4,135.97 414.8,137.29 415.2,140.11 415.6,140.01 416,141.19 416.4,144.15 416.8,144.4 417.2,145.07 417.6,145.68 418,147.12 418.4,149.47 418.8,149.93 419.2,147.98 419.6,151.7 420,151.97 420.4,150.29 420.8,154.52 421.2,152.91 421.6,153.32 422,156.37 422.4,158.11 422.8,153.86 423.2,156.98 423.6,154.13 424,162.45 424.4,155.74 424.8,160.49 425.2,155.9 425.6,160.14 426,164.34 426.4,152.03 426.8,157.42 427.2,160.33 427.6,158.8 428,157.28 428.4,165.92 428.8,159.85 429.2,154.7 429.6,162.56 430,154.63 430.4,120.92 430.8,123.37 431.2,127.26 431.6,131.47 432,133.16 432.4,133.9 432.8,135.75 433.2,142 433.6,143.49 434,142.87 434.4,147.49 434.8,148.51 435.2,150.34 435.6,145.9 436,151.1 436.4,154.87 436.8,155.64 437.2,157.04 437.6,150.48 438,157.18 438.4,158.79 438.8,164.14 439.2,156.43 439.6,158.68 440,160.24 440.4,163.15 440.8,159.89 441.2,164.93 441.6,159.7 442,163.2 442.4,161.16 442.8,163.57 443.2,151.72 443.6,152.39 444,156.77 444.4,157.21 444.8,157.07 445.2,159.29 445.6,161.67 446,158.64 446.4,161.04 446.8,163.08 447.2,163.63 447.6,162 448,157.77 448.4,166.91 448.8,128.13 449.2,130.65 449.6,132.95 450,135.8 450.4,137.33 450.8,138.68 451.2,140.88 451.6,142.82 452,144.45 452.4,145.16 452.8,149.41 453.2,147.6 453.6,152.25 454,150.46 454.4,154.12 454.8,157.23 455.2,155.93 455.6,154.92 456,157.43 456.4,158.48 456.8,154.93 457.2,158.2 457.6,160.69 458,159.76 458.4,161.71 458.8,163.94 459.2,164.57 459.6,165.46 460,165.09 460.4,163.12 460.8,164.25 461.2,163.9 461.6,164.12 462,164.81 462.4,160.54 462.8,164.92 463.2,166.11 463.6,163.45 464,166.59 464.4,168.49 464.8,166.56 465.2,173.88 465.6,160.13 466,166.94 466.4,161.79 466.8,171.14 467.2,175.59 467.6,160.56 468,168.72 468.4,170.16 468.8,116.38 469.2,122 469.6,123.19 470,130.47 470.4,132.95 470.8,135.02 471.2,136.06 471.6,140.43 472,139.61 472.4,142.61 472.8,141.96 473.2,138.32 473.6,135.8 474,139.38 474.4,142.85 474.8,142 475.2,145.05 475.6,136 476,138.79 476.4,142.62 476.8,146.12 477.2,144.41 477.6,144.43 478,150.55 478.4,153.32 478.8,153.49 479.2,154.43 479.6,152.16 480,152.66 480.4,157.31 480.8,146.49 481.2,147.48 481.6,149.73 482,155.25 482.4,156.48 482.8,153.72 483.2,154.55 483.6,157.19 484,155.97 484.4,161.09" fill="none" stroke="#ff0000" stroke-width="1" stroke-opacity="1" stroke-linejoin="round"/>
</g>
<line x1="44" y1="5.5" x2="505.5" y2="5.5" stroke="#000" stroke-width="1" stroke-opacity="1"/>
<line x1="44" y1="234.5" x2="505.5" y2="234.5" stroke="#000" stroke-width="1" stroke-opacity="1"/>
<line x1="44" y1="5.5" x2="44" y2="234.5" stroke="#000" stroke-width="1" stroke-opacity="1"/>
<line x1="505.5" y1="5.5" x2="505.5" y2="234.5" stroke="#000" stroke-width="1" stroke-opacity="1"/>
<line x1="42" y1="224.4" x2="44" y2="224.4" stroke="#000" stroke-width="1" stroke-opacity="1"/>
<text x="40.5" y="229.6" text-anchor="end" font-size="15" font-family='"Liberation Sans", sans-serif' fill="#000" textLength="20.3" lengthAdjust="spacingAndGlyphs">0.0</text>
<line x1="42" y1="195.74" x2="44" y2="195.74" stroke="#000" stroke-width="1" stroke-opacity="1"/>
<text x="40.5" y="200.94" text-anchor="end" font-size="15" font-family='"Liberation Sans", sans-serif' fill="#000" textLength="20.3" lengthAdjust="spacingAndGlyphs">0.1</text>
<line x1="42" y1="167.08" x2="44" y2="167.08" stroke="#000" stroke-width="1" stroke-opacity="1"/>
<text x="40.5" y="172.28" text-anchor="end" font-size="15" font-family='"Liberation Sans", sans-serif' fill="#000" textLength="20.3" lengthAdjust="spacingAndGlyphs">0.2</text>
<line x1="42" y1="138.42" x2="44" y2="138.42" stroke="#000" stroke-width="1" stroke-opacity="1"/>
<text x="40.5" y="143.62" text-anchor="end" font-size="15" font-family='"Liberation Sans", sans-serif' fill="#000" textLength="20.3" lengthAdjust="spacingAndGlyphs">0.3</text>
<line x1="42" y1="109.76" x2="44" y2="109.76" stroke="#000" stroke-width="1" stroke-opacity="1"/>
<text x="40.5" y="114.96" text-anchor="end" font-size="15" font-family='"Liberation Sans", sans-serif' fill="#000" textLength="20.3" lengthAdjust="spacingAndGlyphs">0.4</text>
<line x1="42" y1="81.1" x2="44" y2="81.1" stroke="#000" stroke-width="1" stroke-opacity="1"/>
<text x="40.5" y="86.3" text-anchor="end" font-size="15" font-family='"Liberation Sans", sans-serif' fill="#000" textLength="20.3" lengthAdjust="spacingAndGlyphs">0.5</text>
<line x1="42" y1="52.44" x2="44" y2="52.44" stroke="#000" stroke-width="1" stroke-opacity="1"/>
<text x="40.5" y="57.64" text-anchor="end" font-size="15" font-family='"Liberation Sans", sans-serif' fill="#000" textLength="20.3" lengthAdjust="spacingAndGlyphs">0.6</text>
<line x1="42" y1="23.78" x2="44" y2="23.78" stroke="#000" stroke-width="1" stroke-opacity="1"/>
<text x="40.5" y="28.98" text-anchor="end" font-size="15" font-family='"Liberation Sans", sans-serif' fill="#000" textLength="20.3" lengthAdjust="spacingAndGlyphs">0.7</text>
<line x1="505.5" y1="234" x2="507.5" y2="234" stroke="#000" stroke-width="1" stroke-opacity="1"/>
<text x="508.5" y="239.2" text-anchor="start" font-size="15" font-family='"Liberation Sans", sans-serif' fill="#000" textLength="16.1" lengthAdjust="spacingAndGlyphs">65</text>
<line x1="505.5" y1="205.47" x2="507.5" y2="205.47" stroke="#000" stroke-width="1" stroke-opacity="1"/>
<text x="508.5" y="210.67" text-anchor="start" font-size="15" font-family='"Liberation Sans", sans-serif' fill="#000" textLength="16.1" lengthAdjust="spacingAndGlyphs">70</text>
<line x1="505.5" y1="176.95" x2="507.5" y2="176.95" stroke="#000" stroke-width="1" stroke-opacity="1"/>
<text x="508.5" y="182.15" text-anchor="start" font-size="15" font-family='"Liberation Sans", sans-serif' fill="#000" textLength="16.1" lengthAdjust="spacingAndGlyphs">75</text>
<line x1="505.5" y1="148.43" x2="507.5" y2="148.43" stroke="#000" stroke-width="1" stroke-opacity="1"/>
<text x="508.5" y="153.62" text-anchor="start" font-size="15" font-family='"Liberation Sans", sans-serif' fill="#000" textLength="16.1" lengthAdjust="spacingAndGlyphs">80</text>
<line x1="505.5" y1="119.9" x2="507.5" y2="119.9" stroke="#000" stroke-width="1" stroke-opacity="1"/>
<text x="508.5" y="125.1" text-anchor="start" font-size="15" font-family='"Liberation Sans", sans-serif' fill="#000" textLength="16.1" lengthAdjust="spacingAndGlyphs">85</text>
<line x1="505.5" y1="91.38" x2="507.5" y2="91.38" stroke="#000" stroke-width="1" stroke-opacity="1"/>
<text x="508.5" y="96.58" text-anchor="start" font-size="15" font-family='"Liberation Sans", sans-serif' fill="#000" textLength="16.1" lengthAdjust="spacingAndGlyphs">90</text>
<line x1="505.5" y1="62.85" x2="507.5" y2="62.85" stroke="#000" stroke-width="1" stroke-opacity="1"/>
<text x="508.5" y="68.05" text-anchor="start" font-size="15" font-family='"Liberation Sans", sans-serif' fill="#000" textLength="16.1" lengthAdjust="spacingAndGlyphs">95</text>
<line x1="505.5" y1="34.33" x2="507.5" y2="34.33" stroke="#000" stroke-width="1" stroke-opacity="1"/>
<text x="508.5" y="39.53" text-anchor="start" font-size="15" font-family='"Liberation Sans", sans-serif' fill="#000" textLength="24.15" lengthAdjust="spacingAndGlyphs">100</text>
<line x1="505.5" y1="5.8" x2="507.5" y2="5.8" stroke="#000" stroke-width="1" stroke-opacity="1"/>
<text x="508.5" y="11" text-anchor="start" font-size="15" font-family='"Liberation Sans", sans-serif' fill="#000" textLength="24.15" lengthAdjust="spacingAndGlyphs">105</text>
<line x1="65" y1="234" x2="65" y2="236" stroke="#000" stroke-width="1" stroke-opacity="1"/>
<text x="65" y="247.9" text-anchor="middle" font-size="15" font-family='"Liberation Sans", sans-serif' fill="#000" textLength="8.1" lengthAdjust="spacingAndGlyphs">0</text>
<line x1="117.45" y1="234" x2="117.45" y2="236" stroke="#000" stroke-width="1" stroke-opacity="1"/>
<text x="117.45" y="247.9" text-anchor="middle" font-size="15" font-family='"Liberation Sans", sans-serif' fill="#000" textLength="32.4" lengthAdjust="spacingAndGlyphs">2500</text>
<line x1="169.9" y1="234" x2="169.9" y2="236" stroke="#000" stroke-width="1" stroke-opacity="1"/>
<text x="169.9" y="247.9" text-anchor="middle" font-size="15" font-family='"Liberation Sans", sans-serif' fill="#000" textLength="32.4" lengthAdjust="spacingAndGlyphs">5000</text>
<line x1="222.35" y1="234" x2="222.35" y2="236" stroke="#000" stroke-width="1" stroke-opacity="1"/>
<text x="222.35" y="247.9" text-anchor="middle" font-size="15" font-family='"Liberation Sans", sans-serif' fill="#000" textLength="32.4" lengthAdjust="spacingAndGlyphs">7500</text>
<line x1="274.8" y1="234" x2="274.8" y2="236" stroke="#000" stroke-width="1" stroke-opacity="1"/>
<text x="274.8" y="247.9" text-anchor="middle" font-size="15" font-family='"Liberation Sans", sans-serif' fill="#000" textLength="40.5" lengthAdjust="spacingAndGlyphs">10000</text>
<line x1="327.25" y1="234" x2="327.25" y2="236" stroke="#000" stroke-width="1" stroke-opacity="1"/>
<text x="327.25" y="247.9" text-anchor="middle" font-size="15" font-family='"Liberation Sans", sans-serif' fill="#000" textLength="40.5" lengthAdjust="spacingAndGlyphs">12500</text>
<line x1="379.7" y1="234" x2="379.7" y2="236" stroke="#000" stroke-width="1" stroke-opacity="1"/>
<text x="379.7" y="247.9" text-anchor="middle" font-size="15" font-family='"Liberation Sans", sans-serif' fill="#000" textLength="40.5" lengthAdjust="spacingAndGlyphs">15000</text>
<line x1="432.15" y1="234" x2="432.15" y2="236" stroke="#000" stroke-width="1" stroke-opacity="1"/>
<text x="432.15" y="247.9" text-anchor="middle" font-size="15" font-family='"Liberation Sans", sans-serif' fill="#000" textLength="40.5" lengthAdjust="spacingAndGlyphs">17500</text>
<line x1="484.6" y1="234" x2="484.6" y2="236" stroke="#000" stroke-width="1" stroke-opacity="1"/>
<text x="484.6" y="247.9" text-anchor="middle" font-size="15" font-family='"Liberation Sans", sans-serif' fill="#000" textLength="40.5" lengthAdjust="spacingAndGlyphs">20000</text>
<text transform="translate(14.3,119.6) rotate(-90)" text-anchor="middle" font-size="17.8" font-family='"Liberation Sans", sans-serif' fill="#000" textLength="33.2" lengthAdjust="spacingAndGlyphs">loss</text>
<text transform="translate(549.2,119.6) rotate(-90)" text-anchor="middle" font-size="18.6" font-family='"Liberation Sans", sans-serif' fill="#000" textLength="82.8" lengthAdjust="spacingAndGlyphs">similarity</text>
<text x="274.6" y="265.8" text-anchor="middle" font-size="18" font-family='"Liberation Sans", sans-serif' fill="#000" textLength="75.4" lengthAdjust="spacingAndGlyphs">iteration</text>
<line x1="273.3" y1="29.5" x2="311.1" y2="29.5" stroke="#0000ff" stroke-width="1.2" stroke-opacity="0.75"/>
<line x1="273.3" y1="56.5" x2="311.1" y2="56.5" stroke="#00bfbf" stroke-width="1.2" stroke-opacity="0.75"/>
<line x1="273.3" y1="83.5" x2="311.1" y2="83.5" stroke="#ff0000" stroke-width="1.4" stroke-opacity="0.55"/>
<text x="325" y="35.8" text-anchor="start" font-size="18" font-family='"Liberation Sans", sans-serif' fill="#000" textLength="163.4" lengthAdjust="spacingAndGlyphs">discriminator_loss</text>
<text x="325" y="63.2" text-anchor="start" font-size="18" font-family='"Liberation Sans", sans-serif' fill="#000" textLength="77" lengthAdjust="spacingAndGlyphs">vae_loss</text>
<text x="325" y="89.4" text-anchor="start" font-size="18" font-family='"Liberation Sans", sans-serif' fill="#000" textLength="151.5" lengthAdjust="spacingAndGlyphs">similarity_metric</text>
<text x="276.5" y="309.2" text-anchor="middle" font-size="25.4" font-family='"Liberation Serif", serif' fill="#000" textLength="197.7" lengthAdjust="spacingAndGlyphs">(a) Training history</text>
<clipPath id="c2"><rect x="40.5" y="321.0" width="451.5" height="224.5"/></clipPath>
<g clip-path="url(#c2)">
<polyline points="60.7,504.8 60.75,506.45 60.79,507.61 60.84,509.7 60.88,510.79 60.93,511.89 60.97,513.91 61.02,514.69 61.06,517.26 61.11,517.96 61.15,519.82 61.2,522.29 61.25,523.5 61.29,525.13 61.34,526.35 61.38,527.86 61.43,529.49 61.47,531.43 61.52,531.72 61.56,534.16 61.61,534.94 61.65,536.39 61.7,538.3 61.79,537.26 61.88,535.35 61.97,534.2 62.05,532.68 62.14,530.67 62.23,528.49 62.32,526.65 62.41,525.92 62.5,524.68 62.58,522.4 62.67,520.52 62.76,518.86 62.85,517.58 62.94,516.86 63.03,514.2 63.12,513.01 63.2,511.51 63.29,510.67 63.38,509.56 63.47,506.45 63.56,505.05 63.65,504.81 63.73,503.31 63.82,500.45 63.91,499.19 64,497.9 64.06,499.49 64.13,500.72 64.19,502.43 64.25,504.08 64.32,505.28 64.38,506.5 64.44,508.1 64.51,509.78 64.57,511.22 64.63,513.62 64.69,515.29 64.76,516.15 64.82,518.55 64.88,520 64.95,520.94 65.01,522.73 65.07,523.8 65.14,526.53 65.2,527.4 65.3,525.98 65.4,523.65 65.5,522.3 65.6,521.64 65.7,519.63 65.8,518.65 65.9,516.35 66,515.74 66.1,514.23 66.2,511.58 66.3,510.85 66.4,508.71 66.5,508.02 66.6,506.65 66.7,505.12 66.8,502.7 66.9,500.97 67,500.36 67.1,498.69 67.2,496.49 67.3,495.06 67.4,494.17 67.5,491.89 67.6,491 67.67,492.74 67.74,493.63 67.8,495.18 67.87,496.97 67.94,498.67 68.01,500.5 68.08,500.91 68.15,503.54 68.21,504.26 68.28,505.89 68.35,507.97 68.42,509.58 68.49,510.98 68.55,512.96 68.62,513.37 68.69,515.06 68.76,517.15 68.83,518.03 68.9,519.38 68.96,521.02 69.03,523.41 69.1,524.5 69.15,523.51 69.19,521.83 69.24,520.7 69.29,518.93 69.33,516.65 69.38,515.14 69.43,514.28 69.47,511.71 69.52,511.08 69.57,508.74 69.61,507.17 69.66,506.4 69.71,504.31 69.75,504.05 69.8,502.45 69.85,500.28 69.89,498.35 69.94,496.71 69.99,495.82 70.03,494.33 70.08,492.57 70.13,491.63 70.17,489.82 70.22,488.7 70.27,486.12 70.31,484.55 70.36,483.55 70.41,482.19 70.45,480.31 70.5,479.2 70.93,477.94 71.37,475.69 71.8,474.31 72.23,473.03 72.67,471.87 73.1,470.43 73.53,468.26 73.97,466.85 74.4,465.4 75.4,467.26 76.4,468.45 77.4,469.13 78.4,469.49 79.4,471.3 79.72,469.71 80.04,468.47 80.37,466.38 80.69,464.47 81.01,464.46 81.33,462.82 81.66,460.05 81.98,459.07 82.3,457.6 82.5,456.21 82.7,454.12 82.9,452.17 83.1,451.68 83.3,450.13 83.5,448.02 83.7,445.88 83.9,444.79 84.1,442.73 84.3,441.8 84.59,444.23 84.87,444.45 85.16,446.52 85.44,448.97 85.73,449.64 86.01,451.28 86.3,453.6 86.44,451.37 86.57,449.98 86.71,449.02 86.84,447.96 86.98,445.36 87.11,443.82 87.25,443.22 87.39,441.14 87.52,439.46 87.66,437.57 87.79,436.22 87.93,435.84 88.06,432.93 88.2,432 89.2,433.07 90.2,434.9 91.17,433.65 92.13,432.26 93.1,430 93.6,428.97 94.1,426.61 94.6,425.71 95.1,423.3 95.9,421.89 96.7,419.8 97.5,418.5 98.3,417.33 99.1,415.4 99.42,414.24 99.74,411.74 100.07,410.31 100.39,410 100.71,407.1 101.03,406.7 101.36,404.41 101.68,402.73 102,401.6 103.33,400.24 104.67,399.62 106,398.7 106.41,397.93 106.83,395.02 107.24,394.6 107.66,392.19 108.07,390.39 108.49,389.75 108.9,387.8 109.88,386.07 110.85,384.35 111.83,383.24 112.8,381.9 113.6,381.03 114.4,379.72 115.2,377.88 116,375.6 116.8,375 117.78,374.2 118.75,372.72 119.72,371.96 120.7,370.1 122,371.82 123.3,371.82 124.6,373.1 125.8,372.48 127,371.25 128.2,369.19 129.4,368.17 130.6,367.2 132.57,367 134.53,366.96 136.5,367.2 137.95,367.91 139.4,369 141,365.05 142,363.52 143,366.23 144,367.11 145,364.73 146,365.96 147,367.11 148,366.91 149,363.12 150,365.45 151,363.18 152,363.63 153,367 154,365.11 155,366 156,365.3 157,364.71 158,364.13 159,364.8 160,367.15 161,366.07 162,364.5 163,363.52 164,364.4 165,366.47 166,365.22 167,366.27 168,366.97 169,363.68 170,366.38 171,363.3 172,367.05 173,363.98 174,364.4 175,367.7 176,364.84 177,364.18 178,367.37 179,366.03 180,367.39 181,364.99 182,365.5 183,367.69 184,365.53 185,367.85 186,364.01 187,367.09 188,363.88 189,365.63 190,363.1 191,363.94 192,367.64 193,365.28 194,366.99 195,364.3 196,364.79 197,363.58 198,365.75 199,367.24 200,365.57 201,364.91 202,367.56 203,367.39 204,366.3 205,363.46 206,366.1 207,365.23 208,367.7 209,364.84 210,366.27 211,366.13 212,364.9 213,369.11 214,369.85 215,370.95 216,368.99 217,368.35 218,367.79 219,363.37 220,367.11 221,366.38 222,365.78 223,365.25 224,366.71 225,367.38 226,366.6 227,366.7 228,363.27 229,364.66 230,363.76 231,367.67 232,367.38 233,363.79 234,365.92 235,365.87 236,363.32 237,364.98 238,366.69 239,366.18 240,364.45 241,366.76 242,364.5 243,365.71 244,365.12 245,367.8 246,366.21 247,366.96 248,366.35 249,364.93 250,367.72 251,366.51 252,366.42 253,364.43 254,363.88 255,365.86 256,367.06 257,366.91 258,364.77 259,363.77 260,365.58 261,367.31 262,363.88 263,366.64 264,363.92 265,364.6 266,363.36 267,364.53 268,364.94 269,367.74 270,367.72 271,364 272,364.59 273,367.63 274,364.05 275,364.64 276,365.2 277,363.62 278,364.35 279,364.99 280,364.95 281,367.73 282,364.38 283,364.08 284,367.46 285,365.26 286,367.12 287,366.16 288,366.84 289,364.61 290,363.83 291,369.73 292,368.36 293,368.78 294,366.32 295,366.71 296,364.42 297,364.84 298,367.5 299,365.64 300,364.48 301,366.12 302,364.35 303,366.8 304,363.3 305,367.07 306,365.82 307,364.8 308,367.61 309,368.37 310,368.27 311,367.44 312,369.73 313,366.72 314,366.35 315,365.08 316,366.98 317,363.63 318,364.57 319,366.19 320,367.74 321,366.14 322,366.42 323,366.82 324,364.99 325,367.61 326,366.66 327,364.74 328,364.98 329,366.97 330,364.78 331,363.99 332,367.28 333,365.65 334,365.6 335,366.31 336,367.43 337,363.74 338,364.73 339,363.42 340,365.08 341,365.51 342,367.19 343,366.31 344,365.87 345,365.04 346,365.85 347,364.41 348,367.16 349,366.88 350,367.12 351,363.83 352,366.32 353,366.72 354,365.5 355,367.41 356,367.41 357,366.67 358,367.04 359,366.21 360,367.32 361,363.73 362,366.48 363,366.48 364,366.04 365,364.42 366,363.42 367,366 368,367.06 369,364.41 370,364.12 371,364.17 372,363.55 373,366.34 374,367.78 375,366.95 376,364.83 377,366.46 378,363.45 379,367.13 380,364.66 381,363.12 382,366.12 383,363.77 384,364.42 385,363.38 386,365.24 387,365.76 388,366.98 389,363.29 390,367.07 391,363.63 392,364.18 393,366.12 394,364.73 395,364.69 396,365.83 397,364.15 398,366.91 399,364.1 400,367.13 401,366.98 402,365.68 403,363.25 404,366.83 405,363.24 406,365.52 407,365.13 408,363.4 409,362.62 410,363.08 411,362.41 412,365.02 413,365.56 414,365.93 415,364.19 416,367.26 417,367.88 418,366.96 419,367.71 420,364.68 421,367.83 422,363.44 423,365.39 424,363.74 425,365.28 426,369.38 427,369.5 428,368.28 429,364.74 430,364.01 431,365.03 432,364.46 433,364.03 434,366.63 435,365.58 436,365.21 437,364.05 438,366.48 439,364.04 440,364.37 441,365.79 442,366.47 443,367.77 444,366.69 445,367.65 446,367.52 447,366.57 448,366.55 449,363.4 450,364.09 451,363.16 452,367.25 453,366.57 454,366.12 455,364.37 456,364.81 457,363.89 458,366.13 459,367.86 460,364.57 461,363.31 462,363.94 463,364.81 464,367.42 465,366.96 466,365.28 467,363.59 468,363.61 469,363.84 470,366.83 471,365.36 471.6,364.4" fill="none" stroke="#0000ff" stroke-width="1.1" stroke-opacity="1" stroke-linejoin="round"/>
<polyline points="77.4,318 78.2,319.13 79,321.5 81.3,320.5 82.3,322.9 82.5,324.03 82.7,326.7 82.9,327.47 83.1,329.4 83.3,331.37 83.5,332.73 83.7,333.48 83.9,336.13 84.1,337.52 84.3,338.6 84.45,340.9 84.61,342 84.76,343.55 84.92,345.16 85.07,345.78 85.22,347.94 85.38,349.02 85.53,351.27 85.68,351.65 85.84,353.82 85.99,355.01 86.15,357.3 86.3,358.3 86.49,359.62 86.68,361.99 86.87,363.57 87.06,365.19 87.25,365.57 87.44,368.42 87.63,369.68 87.82,371.14 88.01,372.67 88.2,374 88.48,371.52 88.76,371.07 89.04,368.8 89.32,366.89 89.6,365.2 90,366.67 90.4,369.1 90.8,370.83 91.2,372.1 93.1,373 94.6,375.09 96.1,376 96.7,376.92 97.3,378.5 97.9,379.74 98.5,380.88 99.1,382.9 100.07,383.85 101.05,384.59 102.03,387.05 103,387.8 103.4,388.94 103.8,390.27 104.2,391.85 104.6,394.51 105,395.7 105.56,393.82 106.11,392.84 106.67,391.34 107.23,390.58 107.79,389.43 108.34,387 108.9,385.9 109.28,387.59 109.65,389.48 110.03,390.28 110.4,392.44 110.78,393.65 111.15,394.45 111.53,396.82 111.9,397.7 112.28,399.4 112.66,400.23 113.04,402.58 113.42,404.55 113.8,405.6 114.8,406.93 115.8,408.17 116.8,409.5 117.38,410.95 117.96,413.27 118.54,414.5 119.12,415.35 119.7,417.4 121.2,416.18 122.7,415.4 123.06,413.6 123.42,412.97 123.78,410.97 124.14,408.48 124.5,408.16 124.86,405.18 125.22,404.49 125.58,402.65 125.94,401.53 126.3,399.6 126.4,401 126.5,401.98 126.6,404.18 126.7,406.17 126.8,407.64 126.9,408.46 127,409.76 127.1,412.11 127.2,413.72 127.3,414.3 127.4,416.88 127.5,418.57 127.6,419.3 128.35,420.67 129.1,422.06 129.85,424.06 130.6,425.2 132.55,425.44 134.5,424.3 135.28,425.18 136.06,426.7 136.84,428.11 137.62,430.11 138.4,431.1 140,432.95 141,432.84 142,432.53 143,431.17 144,433.27 145,429.96 146,430.16 147,432.83 148,432.84 149,431.58 150,432.11 151,431.2 152,436.12 153,435.39 154,436.91 155,437.39 156,434.86 157,436.7 158,435.19 159,437.71 160,438.04 161,434.26 162,433.53 163,434.48 164,436.31 165,435.13 166,433.11 167,437.28 168,436.94 169,435.17 170,432.88 171,437.18 172,435.23 173,432.72 174,433.93 175,435.39 176,436.65 177,434.46 178,435.17 179,432.81 180,433.09 181,436.74 182,434.22 183,432.98 184,435.71 185,433.5 186,434.09 187,435.62 188,436.5 189,436.97 190,437.54 191,436.35 192,434.62 193,438.24 194,434.96 195,437.33 196,437.17 197,438.79 198,439.21 199,436.95 200,438.45 201,438.05 202,436.28 203,433.94 204,437.3 205,435.07 206,432.33 207,433.74 208,438.13 209,434.69 210,436.04 211,437.9 212,435.08 213,431.1 214,428.66 215,422 216,423.31 217,430.63 218,432.47 219,431.23 220,433.62 221,433.28 222,435.54 223,430.51 224,431.53 225,431.54 226,432.6 227,438.31 228,439.14 229,442.27 230,440.32 231,442.91 232,438.26 233,442.49 234,441.79 235,439.74 236,443.63 237,440.95 238,443.25 239,439.97 240,442.34 241,441.71 242,440.68 243,434.76 244,437.43 245,433.89 246,433.27 247,429.81 248,430.42 249,430.29 250,431.36 251,427.6 252,427.48 253,429.92 254,428.43 255,428.82 256,426.63 257,430.3 258,426.33 259,430.01 260,429.42 261,427.08 262,426.19 263,430.68 264,430.13 265,433.03 266,428.37 267,429.88 268,425.75 269,425.46 270,424.83 271,428.85 272,430.19 273,430.9 274,427.73 275,430.11 276,430.77 277,434.16 278,431.97 279,435.35 280,438.17 281,437.88 282,434.72 283,435.87 284,436.67 285,438.48 286,436.79 287,435.18 288,433.65 289,432.92 290,433.98 291,434.17 292,435.57 293,434.61 294,434.61 295,431.88 296,428.15 297,425.25 298,420.97 299,423.65 300,423.83 301,420.94 302,422.57 303,420.38 304,425.78 305,424.62 306,427.44 307,426.52 308,428.21 309,429.55 310,429.12 311,427.63 312,429.13 313,431.63 314,429.63 315,430.77 316,429.58 317,429.67 318,430.18 319,428.68 320,426.08 321,425.84 322,426.57 323,424.42 324,425.4 325,428.69 326,428.76 327,426.21 328,429.99 329,431.51 330,433.6 331,434.59 332,434.72 333,432.65 334,435.21 335,431.36 336,431.8 337,429.26 338,428.95 339,429.99 340,424.77 341,427.02 342,427.96 343,427.7 344,430.1 345,427.66 346,430.39 347,428.39 348,429 349,423.61 350,423.42 351,422.98 352,425.71 353,421.37 354,422.96 355,425.63 356,427.36 357,423.44 358,425.11 359,426.71 360,427.03 361,427.63 362,428.48 363,427.18 364,428.54 365,428.67 366,433.44 367,432.26 368,433.53 369,438 370,437.14 371,437.67 372,438.81 373,443.73 374,449.45 375,444.41 376,436.63 377,430.11 378,428.58 379,431.38 380,431.24 381,432.09 382,435.07 383,438.54 384,437.67 385,436.01 386,439.08 387,436.5 388,436.59 389,438.14 390,439.18 391,441.14 392,439.58 393,440.68 394,437.01 395,441 396,437.56 397,439.73 398,435.19 399,439.23 400,438.25 401,443.68 402,445.57 403,447.04 404,446.91 405,445.23 406,445.87 407,449.29 408,445.12 409,447.43 410,446.76 411,446.9 412,444.26 413,443.93 414,443.55 415,448.01 416,444.76 417,446.02 418,445.36 419,442.56 420,440.74 421,439.48 422,442.83 423,438.08 424,441.66 425,438.79 426,440.91 427,438.13 428,441.76 429,439.23 430,440.07 431,441.14 432,439.33 433,440.53 434,443.87 435,441.71 436,442.69 437,445.18 438,442.46 439,441.81 440,441.44 441,441.8 442,441.2 443,442.14 444,440.65 445,442.04 446,437.1 447,439.61 448,439.83 449,436.02 450,434.41 451,436.04 452,433.88 453,435.17 454,435.99 455,432.29 456,432.84 457,435.38 458,434.45 459,435.41 460,437.16 461,436.15 462,435.7 463,436.95 464,437.24 465,439.39 466,437.13 467,434.34 468,434.85 469,437.29 470,436.07 471,437.39 471.6,435.3" fill="none" stroke="#008000" stroke-width="1.1" stroke-opacity="1" stroke-linejoin="round"/>
<polyline points="70.3,318 70.5,320.9 72.5,354.4 74.4,383.9 76.4,405.6 77.4,399.6 79.4,406.5 81.3,404.6 84.3,403.6 86.3,411.5 88.2,423.3 90.2,435 93.1,459.5 96.1,482.2 99.1,498.9 101,515 103,531.4 105.9,533.3 107.9,534.3 110.9,525.5 113,516 115.8,510.7 117.5,513 120,518.7 122.5,529.3 125.7,534.3 127.4,525.2 129.8,532.6 133.1,523.6 135.6,529.3 138,534.3 138.9,526.1 141,523 143,520.3 146.2,523.6 148,516 150.3,508.9 153.6,517 155.5,506 157.7,499.8 160.2,504.8 162.6,490 165.9,502.3 169.2,494.1 170.8,457.2 174.1,492.5 176.6,446.6 180.3,494.1 181.5,433.9 184,460 187.2,485.1 190.5,467.9 192.1,475.2 195.4,470.3 197,475.2 199.1,465.4 200,425.3 201.8,454.2 203,460 206.3,466.8 209.9,449.6 212.6,465 214.4,404.8 216,421 218,436.1 220,448 222.6,459.6 227.1,469.5 228.5,452.3 231.6,466.8 232.5,377.2 234,405 236.1,427.1 238.8,427.1 239.7,441.5 241.9,450 243.9,377.2 244.8,392.14 245.7,405.93 246.6,415.38 247.5,420.66 248.4,430.13 249.3,433.87 250.2,437.1 251.1,440.31 252,445.61 252.7,446.1 254.3,359.5 255.2,373.9 256.1,385.37 257,395.77 257.9,405.86 258.8,416.44 259.7,421.9 260.6,429.06 261.5,432.08 262.2,437.3 263.6,346.7 264.5,360.2 265.4,371.53 266.3,380.84 267.2,388.77 268.1,397.52 269,402.48 269.9,406.75 270.8,414.25 271.7,416.17 272.6,418.27 273.5,420.36 274.4,424.98 275.3,426.45 276.2,426.35 276.4,428.4 278.9,349.7 279.8,359.08 280.7,367.71 281.6,376.82 282.5,383.67 283.4,389.64 284.3,397.18 285.2,403.69 286.1,409.56 287,413.06 287.9,420.39 288.8,425.52 289.7,429.08 290.6,433.51 291.5,435.48 292.1,438.3 293.5,341.8 294.4,355.63 295.3,368.55 296.2,375.46 297.1,383.51 298,391.38 298.9,397.89 299.8,399.43 300.7,403.64 301.6,406.07 302.5,410.08 303.4,411.13 304.3,413.07 305.2,416.54 305.9,416.6 307.9,371.3 308.8,378.28 309.7,385.25 310.6,392.92 311.5,397.08 312.4,403.9 313.3,407.07 314.2,415.76 315.1,418.27 315.7,422.5 316.7,338.9 317.6,350.36 318.5,360.51 319.4,369.79 320.3,379.54 321.2,385.2 322.1,393.53 323,398.03 323.9,401.78 324.8,408.67 325.7,410.55 326.6,417.14 327.5,418.51 328.4,420.66 329.3,425.96 330.2,426.03 330.5,427.4 332.5,333.9 333.4,352.79 334.3,367.85 335.2,380.16 336.1,391.56 337,397.57 337.9,405.63 338.8,410.4 339.7,417.31 340.6,418.01 341.4,422.5 342.8,358.5 343.7,371.3 344.6,382.65 345.5,390.77 346.4,399.52 347.3,406.79 348.2,413.22 349.1,416.2 350,420.89 350.9,424.15 351.8,430.34 352.7,430.14 352.7,431.4 354,334.9 354.9,347.76 355.8,357.34 356.7,367.94 357.6,375.95 358.5,383.65 359.4,386.25 360.3,391.62 361.2,395.38 362.1,400.28 363,402.67 363.9,404.94 364.8,408.72 365.5,408.7 367.4,333 368.3,360.65 369.2,379.25 370.1,391.7 371,399.7 371.9,402.2 372.8,407.87 373.7,408.06 374.6,408.15 374.8,410 375.7,350.7 376.6,363.83 377.5,374.95 378.4,379.09 379.3,383.95 380.2,388.73 381,392 382.8,380 383.7,388.87 384.6,394.86 385.5,402.44 386.4,406.01 387.3,407.37 388.1,409.7 390.5,348.7 391.4,361.55 392.3,372.08 393.2,381.69 394.1,388.4 395,393.41 395.9,397.42 396.8,399.65 397.7,403.08 398.6,406.98 399.5,408.68 400.4,411.04 400.9,410.7 404.4,353.6 405.3,359.08 406.2,365.76 407.1,370.99 408,373.01 408.9,377.16 409.8,384.49 410.7,387.49 411.6,390.08 412.5,395.74 413.4,397.82 414.3,401.23 415.2,405.03 416.1,408.79 417,412.38 417.6,413.7 419.9,334.9 420.8,351.46 421.7,363.35 422.6,376.65 423.5,385.07 424.4,391.69 425.3,398.22 426.2,403.4 427.1,404.38 428,409.16 428.9,412.41 429.7,413.6 431.7,397.9 432.6,404.87 433.5,410.45 434.4,413.57 435.3,414.2 436.2,418.61 436.6,417.5 437.6,343.8 438.5,355.83 439.4,367.19 440.3,374.07 441.2,382.39 442.1,390.83 443,393.73 443.9,399.28 444.8,405.4 445.7,408.73 446.6,409.38 447.5,413.81 448.4,414.7 449.3,417.72 450.2,419.75 451.1,418.87 451.3,420.5 454.3,414.6 455.2,420.38 456.1,422.48 457,424.12 457.2,425.4 458.2,344.8 459.1,365.43 460,376.73 460.9,383.06 461.8,387.63 462.7,391.09 463,392 464.1,370.3 465,383.17 465.9,393.63 466.8,401.37 467.7,410.68 468,412.6 469.6,392 470.5,403.46 471.4,409.71 471.6,408.7" fill="none" stroke="#ff0000" stroke-width="1.1" stroke-opacity="0.85" stroke-linejoin="round"/>
</g>
<rect x="40.5" y="321.0" width="451.5" height="224.5" fill="none" stroke="#000" stroke-width="1"/>
<line x1="38.5" y1="545.5" x2="40.5" y2="545.5" stroke="#000" stroke-width="1" stroke-opacity="1"/>
<text x="37" y="549.4" text-anchor="end" font-size="12.7" font-family='"Liberation Sans", sans-serif' fill="#000" textLength="17.2" lengthAdjust="spacingAndGlyphs">0.5</text>
<line x1="38.5" y1="500.6" x2="40.5" y2="500.6" stroke="#000" stroke-width="1" stroke-opacity="1"/>
<text x="37" y="504.5" text-anchor="end" font-size="12.7" font-family='"Liberation Sans", sans-serif' fill="#000" textLength="17.2" lengthAdjust="spacingAndGlyphs">0.6</text>
<line x1="38.5" y1="455.7" x2="40.5" y2="455.7" stroke="#000" stroke-width="1" stroke-opacity="1"/>
<text x="37" y="459.6" text-anchor="end" font-size="12.7" font-family='"Liberation Sans", sans-serif' fill="#000" textLength="17.2" lengthAdjust="spacingAndGlyphs">0.7</text>
<line x1="38.5" y1="410.8" x2="40.5" y2="410.8" stroke="#000" stroke-width="1" stroke-opacity="1"/>
<text x="37" y="414.7" text-anchor="end" font-size="12.7" font-family='"Liberation Sans", sans-serif' fill="#000" textLength="17.2" lengthAdjust="spacingAndGlyphs">0.8</text>
<line x1="38.5" y1="365.9" x2="40.5" y2="365.9" stroke="#000" stroke-width="1" stroke-opacity="1"/>
<text x="37" y="369.8" text-anchor="end" font-size="12.7" font-family='"Liberation Sans", sans-serif' fill="#000" textLength="17.2" lengthAdjust="spacingAndGlyphs">0.9</text>
<line x1="38.5" y1="321" x2="40.5" y2="321" stroke="#000" stroke-width="1" stroke-opacity="1"/>
<text x="37" y="324.9" text-anchor="end" font-size="12.7" font-family='"Liberation Sans", sans-serif' fill="#000" textLength="17.2" lengthAdjust="spacingAndGlyphs">1.0</text>
<line x1="492" y1="545.5" x2="494" y2="545.5" stroke="#000" stroke-width="1" stroke-opacity="1"/>
<text x="495.2" y="549.4" text-anchor="start" font-size="12.7" font-family='"Liberation Sans", sans-serif' fill="#000" textLength="6" lengthAdjust="spacingAndGlyphs">1</text>
<line x1="492" y1="433.25" x2="494" y2="433.25" stroke="#000" stroke-width="1" stroke-opacity="1"/>
<text x="495.2" y="437.15" text-anchor="start" font-size="12.7" font-family='"Liberation Sans", sans-serif' fill="#000" textLength="6" lengthAdjust="spacingAndGlyphs">2</text>
<line x1="492" y1="321" x2="494" y2="321" stroke="#000" stroke-width="1" stroke-opacity="1"/>
<text x="495.2" y="324.9" text-anchor="start" font-size="12.7" font-family='"Liberation Sans", sans-serif' fill="#000" textLength="6" lengthAdjust="spacingAndGlyphs">3</text>
<line x1="516.3" y1="321" x2="516.3" y2="545.5" stroke="#000" stroke-width="1.2" stroke-opacity="0.5"/>
<line x1="516.3" y1="545.5" x2="518.3" y2="545.5" stroke="#000" stroke-width="1" stroke-opacity="0.5"/>
<text x="519.6" y="549.4" text-anchor="start" font-size="12.7" font-family='"Liberation Sans", sans-serif' fill="#000" textLength="13.2" lengthAdjust="spacingAndGlyphs">70</text>
<line x1="516.3" y1="513.43" x2="518.3" y2="513.43" stroke="#000" stroke-width="1" stroke-opacity="0.5"/>
<text x="519.6" y="517.33" text-anchor="start" font-size="12.7" font-family='"Liberation Sans", sans-serif' fill="#000" textLength="13.2" lengthAdjust="spacingAndGlyphs">72</text>
<line x1="516.3" y1="481.36" x2="518.3" y2="481.36" stroke="#000" stroke-width="1" stroke-opacity="0.5"/>
<text x="519.6" y="485.26" text-anchor="start" font-size="12.7" font-family='"Liberation Sans", sans-serif' fill="#000" textLength="13.2" lengthAdjust="spacingAndGlyphs">74</text>
<line x1="516.3" y1="449.29" x2="518.3" y2="449.29" stroke="#000" stroke-width="1" stroke-opacity="0.5"/>
<text x="519.6" y="453.19" text-anchor="start" font-size="12.7" font-family='"Liberation Sans", sans-serif' fill="#000" textLength="13.2" lengthAdjust="spacingAndGlyphs">76</text>
<line x1="516.3" y1="417.22" x2="518.3" y2="417.22" stroke="#000" stroke-width="1" stroke-opacity="0.5"/>
<text x="519.6" y="421.12" text-anchor="start" font-size="12.7" font-family='"Liberation Sans", sans-serif' fill="#000" textLength="13.2" lengthAdjust="spacingAndGlyphs">78</text>
<line x1="516.3" y1="385.15" x2="518.3" y2="385.15" stroke="#000" stroke-width="1" stroke-opacity="0.5"/>
<text x="519.6" y="389.05" text-anchor="start" font-size="12.7" font-family='"Liberation Sans", sans-serif' fill="#000" textLength="13.2" lengthAdjust="spacingAndGlyphs">80</text>
<line x1="516.3" y1="353.08" x2="518.3" y2="353.08" stroke="#000" stroke-width="1" stroke-opacity="0.5"/>
<text x="519.6" y="356.98" text-anchor="start" font-size="12.7" font-family='"Liberation Sans", sans-serif' fill="#000" textLength="13.2" lengthAdjust="spacingAndGlyphs">82</text>
<line x1="516.3" y1="321.01" x2="518.3" y2="321.01" stroke="#000" stroke-width="1" stroke-opacity="0.5"/>
<text x="519.6" y="324.91" text-anchor="start" font-size="12.7" font-family='"Liberation Sans", sans-serif' fill="#000" textLength="13.2" lengthAdjust="spacingAndGlyphs">84</text>
<line x1="61.1" y1="545.5" x2="61.1" y2="547.5" stroke="#000" stroke-width="1" stroke-opacity="1"/>
<text x="61.1" y="557.3" text-anchor="middle" font-size="12.7" font-family='"Liberation Sans", sans-serif' fill="#000" textLength="7" lengthAdjust="spacingAndGlyphs">0</text>
<line x1="112.5" y1="545.5" x2="112.5" y2="547.5" stroke="#000" stroke-width="1" stroke-opacity="1"/>
<text x="112.5" y="557.3" text-anchor="middle" font-size="12.7" font-family='"Liberation Sans", sans-serif' fill="#000" textLength="28" lengthAdjust="spacingAndGlyphs">2500</text>
<line x1="163.9" y1="545.5" x2="163.9" y2="547.5" stroke="#000" stroke-width="1" stroke-opacity="1"/>
<text x="163.9" y="557.3" text-anchor="middle" font-size="12.7" font-family='"Liberation Sans", sans-serif' fill="#000" textLength="28" lengthAdjust="spacingAndGlyphs">5000</text>
<line x1="215.3" y1="545.5" x2="215.3" y2="547.5" stroke="#000" stroke-width="1" stroke-opacity="1"/>
<text x="215.3" y="557.3" text-anchor="middle" font-size="12.7" font-family='"Liberation Sans", sans-serif' fill="#000" textLength="28" lengthAdjust="spacingAndGlyphs">7500</text>
<line x1="266.7" y1="545.5" x2="266.7" y2="547.5" stroke="#000" stroke-width="1" stroke-opacity="1"/>
<text x="266.7" y="557.3" text-anchor="middle" font-size="12.7" font-family='"Liberation Sans", sans-serif' fill="#000" textLength="35" lengthAdjust="spacingAndGlyphs">10000</text>
<line x1="318.1" y1="545.5" x2="318.1" y2="547.5" stroke="#000" stroke-width="1" stroke-opacity="1"/>
<text x="318.1" y="557.3" text-anchor="middle" font-size="12.7" font-family='"Liberation Sans", sans-serif' fill="#000" textLength="35" lengthAdjust="spacingAndGlyphs">12500</text>
<line x1="369.5" y1="545.5" x2="369.5" y2="547.5" stroke="#000" stroke-width="1" stroke-opacity="1"/>
<text x="369.5" y="557.3" text-anchor="middle" font-size="12.7" font-family='"Liberation Sans", sans-serif' fill="#000" textLength="35" lengthAdjust="spacingAndGlyphs">15000</text>
<line x1="420.9" y1="545.5" x2="420.9" y2="547.5" stroke="#000" stroke-width="1" stroke-opacity="1"/>
<text x="420.9" y="557.3" text-anchor="middle" font-size="12.7" font-family='"Liberation Sans", sans-serif' fill="#000" textLength="35" lengthAdjust="spacingAndGlyphs">17500</text>
<line x1="472.3" y1="545.5" x2="472.3" y2="547.5" stroke="#000" stroke-width="1" stroke-opacity="1"/>
<text x="472.3" y="557.3" text-anchor="middle" font-size="12.7" font-family='"Liberation Sans", sans-serif' fill="#000" textLength="35" lengthAdjust="spacingAndGlyphs">20000</text>
<text transform="translate(14.8,433.4) rotate(-90)" text-anchor="middle" font-size="17.8" font-family='"Liberation Sans", sans-serif' fill="#000" textLength="41" lengthAdjust="spacingAndGlyphs">SSIM</text>
<text transform="translate(516.6,432.25) rotate(-90)" text-anchor="middle" font-size="16.8" font-family='"Liberation Sans", sans-serif' fill="#000" textLength="39.1" lengthAdjust="spacingAndGlyphs">DTW</text>
<text transform="translate(549.5,432.95) rotate(-90)" text-anchor="middle" font-size="19" font-family='"Liberation Sans", sans-serif' fill="#000" textLength="146.3" lengthAdjust="spacingAndGlyphs">similarity_metric</text>
<text x="266.1" y="574.1" text-anchor="middle" font-size="17.8" font-family='"Liberation Sans", sans-serif' fill="#000" textLength="74" lengthAdjust="spacingAndGlyphs">iteration</text>
<line x1="277" y1="466.5" x2="313.7" y2="466.5" stroke="#0000ff" stroke-width="1.1" stroke-opacity="1"/>
<line x1="277" y1="492.5" x2="313.7" y2="492.5" stroke="#008000" stroke-width="1.1" stroke-opacity="0.8"/>
<line x1="277" y1="518.5" x2="313.7" y2="518.5" stroke="#ff0000" stroke-width="1.5" stroke-opacity="0.5"/>
<text x="327.6" y="472.9" text-anchor="start" font-size="17.8" font-family='"Liberation Sans", sans-serif' fill="#000" textLength="39.7" lengthAdjust="spacingAndGlyphs">ssim</text>
<text x="327.6" y="498.7" text-anchor="start" font-size="17.8" font-family='"Liberation Sans", sans-serif' fill="#000" textLength="31.5" lengthAdjust="spacingAndGlyphs">dtw</text>
<text x="327.6" y="524.9" text-anchor="start" font-size="17.8" font-family='"Liberation Sans", sans-serif' fill="#000" textLength="147.3" lengthAdjust="spacingAndGlyphs">similarity_metric</text>
<text x="277" y="617.4" text-anchor="middle" font-size="25.6" font-family='"Liberation Serif", serif' fill="#000" textLength="477.8" lengthAdjust="spacingAndGlyphs">(b) Reconstruction of a test set during training</text>
</svg></body></html>
